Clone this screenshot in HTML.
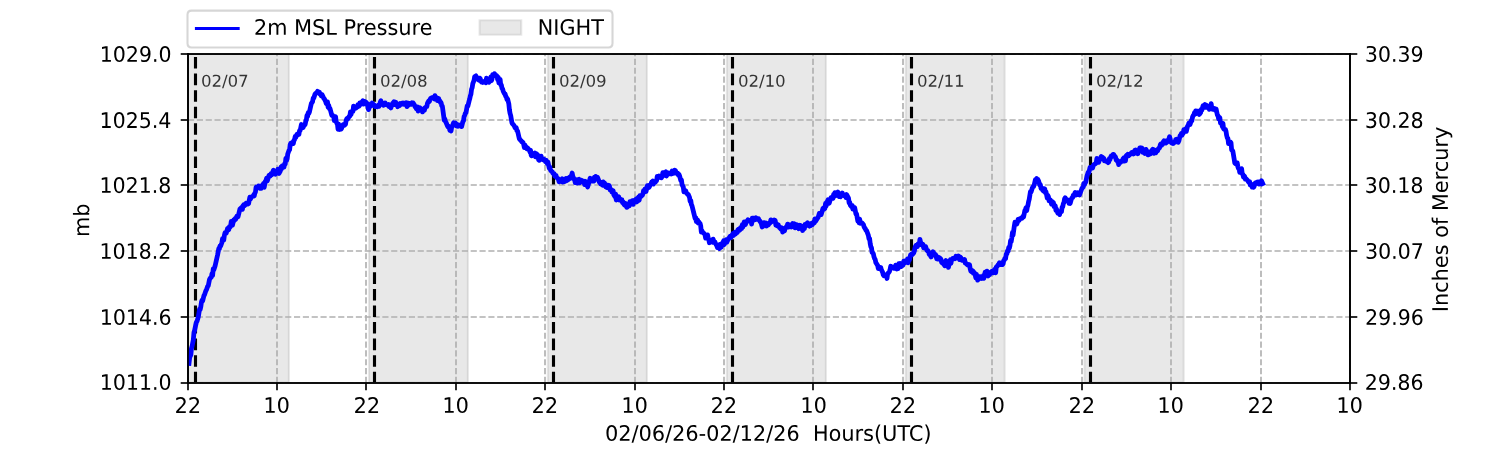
<!DOCTYPE html>
<html><head><meta charset="utf-8"><title>2m MSL Pressure</title>
<style>html,body{margin:0;padding:0;background:#fff;width:1500px;height:450px;overflow:hidden;font-family:"Liberation Sans",sans-serif}svg{display:block}</style>
</head><body>
<svg  width="1500" height="450" viewBox="0 0 720 216"  version="1.1">
<defs>
<style type="text/css">*{stroke-linejoin: round; stroke-linecap: butt}</style>
</defs>
<g id="figure_1">
<g id="patch_1">
<path d="M 0 216
L 720 216
L 720 0
L 0 0
z
" style="fill: #ffffff"/>
</g>
<g id="axes_1">
<g id="patch_2">
<path d="M 90 183.6
L 648 183.6
L 648 25.92
L 90 25.92
z
" style="fill: #ffffff"/>
</g>
<g id="patch_3">
<path d="M 72 183.6
L 138.672 183.6
L 138.672 25.92
L 72 25.92
z
" clip-path="url(#p1a22cb30ed)" style="fill: #808080; fill-opacity: 0.18; stroke: #808080; stroke-opacity: 0.18; stroke-linejoin: miter"/>
</g>
<g id="patch_4">
<path d="M 177.12 183.6
L 224.592 183.6
L 224.592 25.92
L 177.12 25.92
z
" clip-path="url(#p1a22cb30ed)" style="fill: #808080; fill-opacity: 0.18; stroke: #808080; stroke-opacity: 0.18; stroke-linejoin: miter"/>
</g>
<g id="patch_5">
<path d="M 262.944 183.6
L 310.512 183.6
L 310.512 25.92
L 262.944 25.92
z
" clip-path="url(#p1a22cb30ed)" style="fill: #808080; fill-opacity: 0.18; stroke: #808080; stroke-opacity: 0.18; stroke-linejoin: miter"/>
</g>
<g id="patch_6">
<path d="M 348.864 183.6
L 396.432 183.6
L 396.432 25.92
L 348.864 25.92
z
" clip-path="url(#p1a22cb30ed)" style="fill: #808080; fill-opacity: 0.18; stroke: #808080; stroke-opacity: 0.18; stroke-linejoin: miter"/>
</g>
<g id="patch_7">
<path d="M 434.736 183.6
L 482.256 183.6
L 482.256 25.92
L 434.736 25.92
z
" clip-path="url(#p1a22cb30ed)" style="fill: #808080; fill-opacity: 0.18; stroke: #808080; stroke-opacity: 0.18; stroke-linejoin: miter"/>
</g>
<g id="patch_8">
<path d="M 520.56 183.6
L 568.176 183.6
L 568.176 25.92
L 520.56 25.92
z
" clip-path="url(#p1a22cb30ed)" style="fill: #808080; fill-opacity: 0.18; stroke: #808080; stroke-opacity: 0.18; stroke-linejoin: miter"/>
</g>
<g id="matplotlib.axis_1">
<g id="xtick_1">
<g id="line2d_1">
<path d="M 90.2400 183.8400
L 90.2400 25.9200
" clip-path="url(#p1a22cb30ed)" style="fill: none; stroke-dasharray: 2.96,1.28; stroke-dashoffset: 0; stroke: #b0b0b0; stroke-width: 0.8"/>
</g>
<g id="line2d_2">
<defs>
<path id="mbe8e17cb12" d="M 0 0
L 0 3.5
" style="stroke: #000000; stroke-width: 0.8"/>
</defs>
<g>
<use href="#mbe8e17cb12" x="90.2400" y="183.8400" style="stroke: #000000; stroke-width: 0.8"/>
</g>
</g>
<g id="text_1">
<!-- 22 -->
<g transform="translate(83.8142 198.2068) scale(0.10000 -0.10250)">
<defs>
<path id="DejaVuSans-32" d="M 1228 531
L 3431 531
L 3431 0
L 469 0
L 469 531
Q 828 903 1448 1529
Q 2069 2156 2228 2338
Q 2531 2678 2651 2914
Q 2772 3150 2772 3378
Q 2772 3750 2511 3984
Q 2250 4219 1831 4219
Q 1534 4219 1204 4116
Q 875 4013 500 3803
L 500 4441
Q 881 4594 1212 4672
Q 1544 4750 1819 4750
Q 2544 4750 2975 4387
Q 3406 4025 3406 3419
Q 3406 3131 3298 2873
Q 3191 2616 2906 2266
Q 2828 2175 2409 1742
Q 1991 1309 1228 531
z
" transform="scale(0.015625)"/>
</defs>
<use href="#DejaVuSans-32"/>
<use href="#DejaVuSans-32" transform="translate(63.623047 0)"/>
</g>
</g>
</g>
<g id="xtick_2">
<g id="line2d_3">
<path d="M 132.9600 183.8400
L 132.9600 25.9200
" clip-path="url(#p1a22cb30ed)" style="fill: none; stroke-dasharray: 2.96,1.28; stroke-dashoffset: 0; stroke: #b0b0b0; stroke-width: 0.8"/>
</g>
<g id="line2d_4">
<g>
<use href="#mbe8e17cb12" x="132.9600" y="183.8400" style="stroke: #000000; stroke-width: 0.8"/>
</g>
</g>
<g id="text_2">
<!-- 10 -->
<g transform="translate(126.4266 198.1440) scale(0.10000 -0.10250)">
<defs>
<path id="DejaVuSans-31" d="M 794 531
L 1825 531
L 1825 4091
L 703 3866
L 703 4441
L 1819 4666
L 2450 4666
L 2450 531
L 3481 531
L 3481 0
L 794 0
L 794 531
z
" transform="scale(0.015625)"/>
<path id="DejaVuSans-30" d="M 2034 4250
Q 1547 4250 1301 3770
Q 1056 3291 1056 2328
Q 1056 1369 1301 889
Q 1547 409 2034 409
Q 2525 409 2770 889
Q 3016 1369 3016 2328
Q 3016 3291 2770 3770
Q 2525 4250 2034 4250
z
M 2034 4750
Q 2819 4750 3233 4129
Q 3647 3509 3647 2328
Q 3647 1150 3233 529
Q 2819 -91 2034 -91
Q 1250 -91 836 529
Q 422 1150 422 2328
Q 422 3509 836 4129
Q 1250 4750 2034 4750
z
" transform="scale(0.015625)"/>
</defs>
<use href="#DejaVuSans-31"/>
<use href="#DejaVuSans-30" transform="translate(63.623047 0)"/>
</g>
</g>
</g>
<g id="xtick_3">
<g id="line2d_5">
<path d="M 175.6800 183.8400
L 175.6800 25.9200
" clip-path="url(#p1a22cb30ed)" style="fill: none; stroke-dasharray: 2.96,1.28; stroke-dashoffset: 0; stroke: #b0b0b0; stroke-width: 0.8"/>
</g>
<g id="line2d_6">
<g>
<use href="#mbe8e17cb12" x="175.6800" y="183.8400" style="stroke: #000000; stroke-width: 0.8"/>
</g>
</g>
<g id="text_3">
<!-- 22 -->
<g transform="translate(169.7412 198.2072) scale(0.10000 -0.10250)">
<use href="#DejaVuSans-32"/>
<use href="#DejaVuSans-32" transform="translate(63.623047 0)"/>
</g>
</g>
</g>
<g id="xtick_4">
<g id="line2d_7">
<path d="M 218.8800 183.8400
L 218.8800 25.9200
" clip-path="url(#p1a22cb30ed)" style="fill: none; stroke-dasharray: 2.96,1.28; stroke-dashoffset: 0; stroke: #b0b0b0; stroke-width: 0.8"/>
</g>
<g id="line2d_8">
<g>
<use href="#mbe8e17cb12" x="218.8800" y="183.8400" style="stroke: #000000; stroke-width: 0.8"/>
</g>
</g>
<g id="text_4">
<!-- 10 -->
<g transform="translate(212.3473 198.1425) scale(0.10000 -0.10250)">
<use href="#DejaVuSans-31"/>
<use href="#DejaVuSans-30" transform="translate(63.623047 0)"/>
</g>
</g>
</g>
<g id="xtick_5">
<g id="line2d_9">
<path d="M 261.6000 183.8400
L 261.6000 25.9200
" clip-path="url(#p1a22cb30ed)" style="fill: none; stroke-dasharray: 2.96,1.28; stroke-dashoffset: 0; stroke: #b0b0b0; stroke-width: 0.8"/>
</g>
<g id="line2d_10">
<g>
<use href="#mbe8e17cb12" x="261.6000" y="183.8400" style="stroke: #000000; stroke-width: 0.8"/>
</g>
</g>
<g id="text_5">
<!-- 22 -->
<g transform="translate(255.1749 198.2043) scale(0.10000 -0.10250)">
<use href="#DejaVuSans-32"/>
<use href="#DejaVuSans-32" transform="translate(63.623047 0)"/>
</g>
</g>
</g>
<g id="xtick_6">
<g id="line2d_11">
<path d="M 304.8000 183.8400
L 304.8000 25.9200
" clip-path="url(#p1a22cb30ed)" style="fill: none; stroke-dasharray: 2.96,1.28; stroke-dashoffset: 0; stroke: #b0b0b0; stroke-width: 0.8"/>
</g>
<g id="line2d_12">
<g>
<use href="#mbe8e17cb12" x="304.8000" y="183.8400" style="stroke: #000000; stroke-width: 0.8"/>
</g>
</g>
<g id="text_6">
<!-- 10 -->
<g transform="translate(298.2615 198.1430) scale(0.10000 -0.10250)">
<use href="#DejaVuSans-31"/>
<use href="#DejaVuSans-30" transform="translate(63.623047 0)"/>
</g>
</g>
</g>
<g id="xtick_7">
<g id="line2d_13">
<path d="M 347.5200 183.8400
L 347.5200 25.9200
" clip-path="url(#p1a22cb30ed)" style="fill: none; stroke-dasharray: 2.96,1.28; stroke-dashoffset: 0; stroke: #b0b0b0; stroke-width: 0.8"/>
</g>
<g id="line2d_14">
<g>
<use href="#mbe8e17cb12" x="347.5200" y="183.8400" style="stroke: #000000; stroke-width: 0.8"/>
</g>
</g>
<g id="text_7">
<!-- 22 -->
<g transform="translate(341.0939 198.2066) scale(0.10000 -0.10250)">
<use href="#DejaVuSans-32"/>
<use href="#DejaVuSans-32" transform="translate(63.623047 0)"/>
</g>
</g>
</g>
<g id="xtick_8">
<g id="line2d_15">
<path d="M 390.2400 183.8400
L 390.2400 25.9200
" clip-path="url(#p1a22cb30ed)" style="fill: none; stroke-dasharray: 2.96,1.28; stroke-dashoffset: 0; stroke: #b0b0b0; stroke-width: 0.8"/>
</g>
<g id="line2d_16">
<g>
<use href="#mbe8e17cb12" x="390.2400" y="183.8400" style="stroke: #000000; stroke-width: 0.8"/>
</g>
</g>
<g id="text_8">
<!-- 10 -->
<g transform="translate(384.1835 198.1441) scale(0.10000 -0.10250)">
<use href="#DejaVuSans-31"/>
<use href="#DejaVuSans-30" transform="translate(63.623047 0)"/>
</g>
</g>
</g>
<g id="xtick_9">
<g id="line2d_17">
<path d="M 433.4400 183.8400
L 433.4400 25.9200
" clip-path="url(#p1a22cb30ed)" style="fill: none; stroke-dasharray: 2.96,1.28; stroke-dashoffset: 0; stroke: #b0b0b0; stroke-width: 0.8"/>
</g>
<g id="line2d_18">
<g>
<use href="#mbe8e17cb12" x="433.4400" y="183.8400" style="stroke: #000000; stroke-width: 0.8"/>
</g>
</g>
<g id="text_9">
<!-- 22 -->
<g transform="translate(427.0188 198.2059) scale(0.10000 -0.10250)">
<use href="#DejaVuSans-32"/>
<use href="#DejaVuSans-32" transform="translate(63.623047 0)"/>
</g>
</g>
</g>
<g id="xtick_10">
<g id="line2d_19">
<path d="M 476.1600 183.8400
L 476.1600 25.9200
" clip-path="url(#p1a22cb30ed)" style="fill: none; stroke-dasharray: 2.96,1.28; stroke-dashoffset: 0; stroke: #b0b0b0; stroke-width: 0.8"/>
</g>
<g id="line2d_20">
<g>
<use href="#mbe8e17cb12" x="476.1600" y="183.8400" style="stroke: #000000; stroke-width: 0.8"/>
</g>
</g>
<g id="text_10">
<!-- 10 -->
<g transform="translate(469.6261 198.1442) scale(0.10000 -0.10250)">
<use href="#DejaVuSans-31"/>
<use href="#DejaVuSans-30" transform="translate(63.623047 0)"/>
</g>
</g>
</g>
<g id="xtick_11">
<g id="line2d_21">
<path d="M 519.3600 183.8400
L 519.3600 25.9200
" clip-path="url(#p1a22cb30ed)" style="fill: none; stroke-dasharray: 2.96,1.28; stroke-dashoffset: 0; stroke: #b0b0b0; stroke-width: 0.8"/>
</g>
<g id="line2d_22">
<g>
<use href="#mbe8e17cb12" x="519.3600" y="183.8400" style="stroke: #000000; stroke-width: 0.8"/>
</g>
</g>
<g id="text_11">
<!-- 22 -->
<g transform="translate(512.9352 198.2071) scale(0.10000 -0.10250)">
<use href="#DejaVuSans-32"/>
<use href="#DejaVuSans-32" transform="translate(63.623047 0)"/>
</g>
</g>
</g>
<g id="xtick_12">
<g id="line2d_23">
<path d="M 562.0800 183.8400
L 562.0800 25.9200
" clip-path="url(#p1a22cb30ed)" style="fill: none; stroke-dasharray: 2.96,1.28; stroke-dashoffset: 0; stroke: #b0b0b0; stroke-width: 0.8"/>
</g>
<g id="line2d_24">
<g>
<use href="#mbe8e17cb12" x="562.0800" y="183.8400" style="stroke: #000000; stroke-width: 0.8"/>
</g>
</g>
<g id="text_12">
<!-- 10 -->
<g transform="translate(555.5475 198.1442) scale(0.10000 -0.10250)">
<use href="#DejaVuSans-31"/>
<use href="#DejaVuSans-30" transform="translate(63.623047 0)"/>
</g>
</g>
</g>
<g id="xtick_13">
<g id="line2d_25">
<path d="M 605.2800 183.8400
L 605.2800 25.9200
" clip-path="url(#p1a22cb30ed)" style="fill: none; stroke-dasharray: 2.96,1.28; stroke-dashoffset: 0; stroke: #b0b0b0; stroke-width: 0.8"/>
</g>
<g id="line2d_26">
<g>
<use href="#mbe8e17cb12" x="605.2800" y="183.8400" style="stroke: #000000; stroke-width: 0.8"/>
</g>
</g>
<g id="text_13">
<!-- 22 -->
<g transform="translate(598.8565 198.2065) scale(0.10000 -0.10250)">
<use href="#DejaVuSans-32"/>
<use href="#DejaVuSans-32" transform="translate(63.623047 0)"/>
</g>
</g>
</g>
<g id="xtick_14">
<g id="line2d_27">
<path d="M 648.0000 183.8400
L 648.0000 25.9200
" clip-path="url(#p1a22cb30ed)" style="fill: none; stroke-dasharray: 2.96,1.28; stroke-dashoffset: 0; stroke: #b0b0b0; stroke-width: 0.8"/>
</g>
<g id="line2d_28">
<g>
<use href="#mbe8e17cb12" x="648.0000" y="183.8400" style="stroke: #000000; stroke-width: 0.8"/>
</g>
</g>
<g id="text_14">
<!-- 10 -->
<g transform="translate(641.4671 198.1436) scale(0.10000 -0.10250)">
<use href="#DejaVuSans-31"/>
<use href="#DejaVuSans-30" transform="translate(63.623047 0)"/>
</g>
</g>
</g>
<g id="text_15">
<!-- 02/06/26-02/12/26  Hours(UTC) -->
<g transform="translate(290.4255 211.5886) scale(0.10000 -0.10250)">
<defs>
<path id="DejaVuSans-2f" d="M 1625 4666
L 2156 4666
L 531 -594
L 0 -594
L 1625 4666
z
" transform="scale(0.015625)"/>
<path id="DejaVuSans-36" d="M 2113 2584
Q 1688 2584 1439 2293
Q 1191 2003 1191 1497
Q 1191 994 1439 701
Q 1688 409 2113 409
Q 2538 409 2786 701
Q 3034 994 3034 1497
Q 3034 2003 2786 2293
Q 2538 2584 2113 2584
z
M 3366 4563
L 3366 3988
Q 3128 4100 2886 4159
Q 2644 4219 2406 4219
Q 1781 4219 1451 3797
Q 1122 3375 1075 2522
Q 1259 2794 1537 2939
Q 1816 3084 2150 3084
Q 2853 3084 3261 2657
Q 3669 2231 3669 1497
Q 3669 778 3244 343
Q 2819 -91 2113 -91
Q 1303 -91 875 529
Q 447 1150 447 2328
Q 447 3434 972 4092
Q 1497 4750 2381 4750
Q 2619 4750 2861 4703
Q 3103 4656 3366 4563
z
" transform="scale(0.015625)"/>
<path id="DejaVuSans-2d" d="M 313 2009
L 1997 2009
L 1997 1497
L 313 1497
L 313 2009
z
" transform="scale(0.015625)"/>
<path id="DejaVuSans-20" transform="scale(0.015625)"/>
<path id="DejaVuSans-48" d="M 628 4666
L 1259 4666
L 1259 2753
L 3553 2753
L 3553 4666
L 4184 4666
L 4184 0
L 3553 0
L 3553 2222
L 1259 2222
L 1259 0
L 628 0
L 628 4666
z
" transform="scale(0.015625)"/>
<path id="DejaVuSans-6f" d="M 1959 3097
Q 1497 3097 1228 2736
Q 959 2375 959 1747
Q 959 1119 1226 758
Q 1494 397 1959 397
Q 2419 397 2687 759
Q 2956 1122 2956 1747
Q 2956 2369 2687 2733
Q 2419 3097 1959 3097
z
M 1959 3584
Q 2709 3584 3137 3096
Q 3566 2609 3566 1747
Q 3566 888 3137 398
Q 2709 -91 1959 -91
Q 1206 -91 779 398
Q 353 888 353 1747
Q 353 2609 779 3096
Q 1206 3584 1959 3584
z
" transform="scale(0.015625)"/>
<path id="DejaVuSans-75" d="M 544 1381
L 544 3500
L 1119 3500
L 1119 1403
Q 1119 906 1312 657
Q 1506 409 1894 409
Q 2359 409 2629 706
Q 2900 1003 2900 1516
L 2900 3500
L 3475 3500
L 3475 0
L 2900 0
L 2900 538
Q 2691 219 2414 64
Q 2138 -91 1772 -91
Q 1169 -91 856 284
Q 544 659 544 1381
z
M 1991 3584
L 1991 3584
z
" transform="scale(0.015625)"/>
<path id="DejaVuSans-72" d="M 2631 2963
Q 2534 3019 2420 3045
Q 2306 3072 2169 3072
Q 1681 3072 1420 2755
Q 1159 2438 1159 1844
L 1159 0
L 581 0
L 581 3500
L 1159 3500
L 1159 2956
Q 1341 3275 1631 3429
Q 1922 3584 2338 3584
Q 2397 3584 2469 3576
Q 2541 3569 2628 3553
L 2631 2963
z
" transform="scale(0.015625)"/>
<path id="DejaVuSans-73" d="M 2834 3397
L 2834 2853
Q 2591 2978 2328 3040
Q 2066 3103 1784 3103
Q 1356 3103 1142 2972
Q 928 2841 928 2578
Q 928 2378 1081 2264
Q 1234 2150 1697 2047
L 1894 2003
Q 2506 1872 2764 1633
Q 3022 1394 3022 966
Q 3022 478 2636 193
Q 2250 -91 1575 -91
Q 1294 -91 989 -36
Q 684 19 347 128
L 347 722
Q 666 556 975 473
Q 1284 391 1588 391
Q 1994 391 2212 530
Q 2431 669 2431 922
Q 2431 1156 2273 1281
Q 2116 1406 1581 1522
L 1381 1569
Q 847 1681 609 1914
Q 372 2147 372 2553
Q 372 3047 722 3315
Q 1072 3584 1716 3584
Q 2034 3584 2315 3537
Q 2597 3491 2834 3397
z
" transform="scale(0.015625)"/>
<path id="DejaVuSans-28" d="M 1984 4856
Q 1566 4138 1362 3434
Q 1159 2731 1159 2009
Q 1159 1288 1364 580
Q 1569 -128 1984 -844
L 1484 -844
Q 1016 -109 783 600
Q 550 1309 550 2009
Q 550 2706 781 3412
Q 1013 4119 1484 4856
L 1984 4856
z
" transform="scale(0.015625)"/>
<path id="DejaVuSans-55" d="M 556 4666
L 1191 4666
L 1191 1831
Q 1191 1081 1462 751
Q 1734 422 2344 422
Q 2950 422 3222 751
Q 3494 1081 3494 1831
L 3494 4666
L 4128 4666
L 4128 1753
Q 4128 841 3676 375
Q 3225 -91 2344 -91
Q 1459 -91 1007 375
Q 556 841 556 1753
L 556 4666
z
" transform="scale(0.015625)"/>
<path id="DejaVuSans-54" d="M -19 4666
L 3928 4666
L 3928 4134
L 2272 4134
L 2272 0
L 1638 0
L 1638 4134
L -19 4134
L -19 4666
z
" transform="scale(0.015625)"/>
<path id="DejaVuSans-43" d="M 4122 4306
L 4122 3641
Q 3803 3938 3442 4084
Q 3081 4231 2675 4231
Q 1875 4231 1450 3742
Q 1025 3253 1025 2328
Q 1025 1406 1450 917
Q 1875 428 2675 428
Q 3081 428 3442 575
Q 3803 722 4122 1019
L 4122 359
Q 3791 134 3420 21
Q 3050 -91 2638 -91
Q 1578 -91 968 557
Q 359 1206 359 2328
Q 359 3453 968 4101
Q 1578 4750 2638 4750
Q 3056 4750 3426 4639
Q 3797 4528 4122 4306
z
" transform="scale(0.015625)"/>
<path id="DejaVuSans-29" d="M 513 4856
L 1013 4856
Q 1481 4119 1714 3412
Q 1947 2706 1947 2009
Q 1947 1309 1714 600
Q 1481 -109 1013 -844
L 513 -844
Q 928 -128 1133 580
Q 1338 1288 1338 2009
Q 1338 2731 1133 3434
Q 928 4138 513 4856
z
" transform="scale(0.015625)"/>
</defs>
<use href="#DejaVuSans-30"/>
<use href="#DejaVuSans-32" transform="translate(63.623047 0)"/>
<use href="#DejaVuSans-2f" transform="translate(127.246094 0)"/>
<use href="#DejaVuSans-30" transform="translate(160.9375 0)"/>
<use href="#DejaVuSans-36" transform="translate(224.560547 0)"/>
<use href="#DejaVuSans-2f" transform="translate(288.183594 0)"/>
<use href="#DejaVuSans-32" transform="translate(321.875 0)"/>
<use href="#DejaVuSans-36" transform="translate(385.498047 0)"/>
<use href="#DejaVuSans-2d" transform="translate(449.121094 0)"/>
<use href="#DejaVuSans-30" transform="translate(485.205078 0)"/>
<use href="#DejaVuSans-32" transform="translate(548.828125 0)"/>
<use href="#DejaVuSans-2f" transform="translate(612.451172 0)"/>
<use href="#DejaVuSans-31" transform="translate(646.142578 0)"/>
<use href="#DejaVuSans-32" transform="translate(709.765625 0)"/>
<use href="#DejaVuSans-2f" transform="translate(773.388672 0)"/>
<use href="#DejaVuSans-32" transform="translate(807.080078 0)"/>
<use href="#DejaVuSans-36" transform="translate(870.703125 0)"/>
<use href="#DejaVuSans-20" transform="translate(934.326172 0)"/>
<use href="#DejaVuSans-20" transform="translate(966.113281 0)"/>
<use href="#DejaVuSans-48" transform="translate(997.900391 0)"/>
<use href="#DejaVuSans-6f" transform="translate(1073.095703 0)"/>
<use href="#DejaVuSans-75" transform="translate(1134.277344 0)"/>
<use href="#DejaVuSans-72" transform="translate(1197.65625 0)"/>
<use href="#DejaVuSans-73" transform="translate(1238.769531 0)"/>
<use href="#DejaVuSans-28" transform="translate(1290.869141 0)"/>
<use href="#DejaVuSans-55" transform="translate(1329.882812 0)"/>
<use href="#DejaVuSans-54" transform="translate(1403.076172 0)"/>
<use href="#DejaVuSans-43" transform="translate(1458.285156 0)"/>
<use href="#DejaVuSans-29" transform="translate(1528.109375 0)"/>
</g>
</g>
</g>
<g id="matplotlib.axis_2">
<g id="ytick_1">
<g id="line2d_29">
<path d="M 90.2400 183.8400
L 648.0000 183.8400
" clip-path="url(#p1a22cb30ed)" style="fill: none; stroke-dasharray: 2.96,1.28; stroke-dashoffset: 0; stroke: #b0b0b0; stroke-width: 0.8"/>
</g>
<g id="line2d_30">
<defs>
<path id="m7aca13ffb6" d="M 0 0
L -3.5 0
" style="stroke: #000000; stroke-width: 0.8"/>
</defs>
<g>
<use href="#m7aca13ffb6" x="90.2400" y="183.8400" style="stroke: #000000; stroke-width: 0.8"/>
</g>
</g>
<g id="text_16">
<!-- 1011.0 -->
<g transform="translate(47.8958 187.1057) scale(0.09850 -0.10250)">
<defs>
<path id="DejaVuSans-2e" d="M 684 794
L 1344 794
L 1344 0
L 684 0
L 684 794
z
" transform="scale(0.015625)"/>
</defs>
<use href="#DejaVuSans-31"/>
<use href="#DejaVuSans-30" transform="translate(63.623047 0)"/>
<use href="#DejaVuSans-31" transform="translate(127.246094 0)"/>
<use href="#DejaVuSans-31" transform="translate(190.869141 0)"/>
<use href="#DejaVuSans-2e" transform="translate(254.492188 0)"/>
<use href="#DejaVuSans-30" transform="translate(286.279297 0)"/>
</g>
</g>
</g>
<g id="ytick_2">
<g id="line2d_31">
<path d="M 90.2400 152.1600
L 648.0000 152.1600
" clip-path="url(#p1a22cb30ed)" style="fill: none; stroke-dasharray: 2.96,1.28; stroke-dashoffset: 0; stroke: #b0b0b0; stroke-width: 0.8"/>
</g>
<g id="line2d_32">
<g>
<use href="#m7aca13ffb6" x="90.2400" y="152.1600" style="stroke: #000000; stroke-width: 0.8"/>
</g>
</g>
<g id="text_17">
<!-- 1014.6 -->
<g transform="translate(47.8954 155.9035) scale(0.09850 -0.10250)">
<defs>
<path id="DejaVuSans-34" d="M 2419 4116
L 825 1625
L 2419 1625
L 2419 4116
z
M 2253 4666
L 3047 4666
L 3047 1625
L 3713 1625
L 3713 1100
L 3047 1100
L 3047 0
L 2419 0
L 2419 1100
L 313 1100
L 313 1709
L 2253 4666
z
" transform="scale(0.015625)"/>
</defs>
<use href="#DejaVuSans-31"/>
<use href="#DejaVuSans-30" transform="translate(63.623047 0)"/>
<use href="#DejaVuSans-31" transform="translate(127.246094 0)"/>
<use href="#DejaVuSans-34" transform="translate(190.869141 0)"/>
<use href="#DejaVuSans-2e" transform="translate(254.492188 0)"/>
<use href="#DejaVuSans-36" transform="translate(286.279297 0)"/>
</g>
</g>
</g>
<g id="ytick_3">
<g id="line2d_33">
<path d="M 90.2400 120.4800
L 648.0000 120.4800
" clip-path="url(#p1a22cb30ed)" style="fill: none; stroke-dasharray: 2.96,1.28; stroke-dashoffset: 0; stroke: #b0b0b0; stroke-width: 0.8"/>
</g>
<g id="line2d_34">
<g>
<use href="#m7aca13ffb6" x="90.2400" y="120.4800" style="stroke: #000000; stroke-width: 0.8"/>
</g>
</g>
<g id="text_18">
<!-- 1018.2 -->
<g transform="translate(47.7634 124.2021) scale(0.09850 -0.10250)">
<defs>
<path id="DejaVuSans-38" d="M 2034 2216
Q 1584 2216 1326 1975
Q 1069 1734 1069 1313
Q 1069 891 1326 650
Q 1584 409 2034 409
Q 2484 409 2743 651
Q 3003 894 3003 1313
Q 3003 1734 2745 1975
Q 2488 2216 2034 2216
z
M 1403 2484
Q 997 2584 770 2862
Q 544 3141 544 3541
Q 544 4100 942 4425
Q 1341 4750 2034 4750
Q 2731 4750 3128 4425
Q 3525 4100 3525 3541
Q 3525 3141 3298 2862
Q 3072 2584 2669 2484
Q 3125 2378 3379 2068
Q 3634 1759 3634 1313
Q 3634 634 3220 271
Q 2806 -91 2034 -91
Q 1263 -91 848 271
Q 434 634 434 1313
Q 434 1759 690 2068
Q 947 2378 1403 2484
z
M 1172 3481
Q 1172 3119 1398 2916
Q 1625 2713 2034 2713
Q 2441 2713 2670 2916
Q 2900 3119 2900 3481
Q 2900 3844 2670 4047
Q 2441 4250 2034 4250
Q 1625 4250 1398 4047
Q 1172 3844 1172 3481
z
" transform="scale(0.015625)"/>
</defs>
<use href="#DejaVuSans-31"/>
<use href="#DejaVuSans-30" transform="translate(63.623047 0)"/>
<use href="#DejaVuSans-31" transform="translate(127.246094 0)"/>
<use href="#DejaVuSans-38" transform="translate(190.869141 0)"/>
<use href="#DejaVuSans-2e" transform="translate(254.492188 0)"/>
<use href="#DejaVuSans-32" transform="translate(286.279297 0)"/>
</g>
</g>
</g>
<g id="ytick_4">
<g id="line2d_35">
<path d="M 90.2400 88.8000
L 648.0000 88.8000
" clip-path="url(#p1a22cb30ed)" style="fill: none; stroke-dasharray: 2.96,1.28; stroke-dashoffset: 0; stroke: #b0b0b0; stroke-width: 0.8"/>
</g>
<g id="line2d_36">
<g>
<use href="#m7aca13ffb6" x="90.2400" y="88.8000" style="stroke: #000000; stroke-width: 0.8"/>
</g>
</g>
<g id="text_19">
<!-- 1021.8 -->
<g transform="translate(47.7624 92.5700) scale(0.09850 -0.10250)">
<use href="#DejaVuSans-31"/>
<use href="#DejaVuSans-30" transform="translate(63.623047 0)"/>
<use href="#DejaVuSans-32" transform="translate(127.246094 0)"/>
<use href="#DejaVuSans-31" transform="translate(190.869141 0)"/>
<use href="#DejaVuSans-2e" transform="translate(254.492188 0)"/>
<use href="#DejaVuSans-38" transform="translate(286.279297 0)"/>
</g>
</g>
</g>
<g id="ytick_5">
<g id="line2d_37">
<path d="M 90.2400 57.6000
L 648.0000 57.6000
" clip-path="url(#p1a22cb30ed)" style="fill: none; stroke-dasharray: 2.96,1.28; stroke-dashoffset: 0; stroke: #b0b0b0; stroke-width: 0.8"/>
</g>
<g id="line2d_38">
<g>
<use href="#m7aca13ffb6" x="90.2400" y="57.6000" style="stroke: #000000; stroke-width: 0.8"/>
</g>
</g>
<g id="text_20">
<!-- 1025.4 -->
<g transform="translate(47.8056 61.3830) scale(0.09850 -0.10250)">
<defs>
<path id="DejaVuSans-35" d="M 691 4666
L 3169 4666
L 3169 4134
L 1269 4134
L 1269 2991
Q 1406 3038 1543 3061
Q 1681 3084 1819 3084
Q 2600 3084 3056 2656
Q 3513 2228 3513 1497
Q 3513 744 3044 326
Q 2575 -91 1722 -91
Q 1428 -91 1123 -41
Q 819 9 494 109
L 494 744
Q 775 591 1075 516
Q 1375 441 1709 441
Q 2250 441 2565 725
Q 2881 1009 2881 1497
Q 2881 1984 2565 2268
Q 2250 2553 1709 2553
Q 1456 2553 1204 2497
Q 953 2441 691 2322
L 691 4666
z
" transform="scale(0.015625)"/>
</defs>
<use href="#DejaVuSans-31"/>
<use href="#DejaVuSans-30" transform="translate(63.623047 0)"/>
<use href="#DejaVuSans-32" transform="translate(127.246094 0)"/>
<use href="#DejaVuSans-35" transform="translate(190.869141 0)"/>
<use href="#DejaVuSans-2e" transform="translate(254.492188 0)"/>
<use href="#DejaVuSans-34" transform="translate(286.279297 0)"/>
</g>
</g>
</g>
<g id="ytick_6">
<g id="line2d_39">
<path d="M 90.2400 25.9200
L 648.0000 25.9200
" clip-path="url(#p1a22cb30ed)" style="fill: none; stroke-dasharray: 2.96,1.28; stroke-dashoffset: 0; stroke: #b0b0b0; stroke-width: 0.8"/>
</g>
<g id="line2d_40">
<g>
<use href="#m7aca13ffb6" x="90.2400" y="25.9200" style="stroke: #000000; stroke-width: 0.8"/>
</g>
</g>
<g id="text_21">
<!-- 1029.0 -->
<g transform="translate(47.8796 29.6699) scale(0.09850 -0.10250)">
<defs>
<path id="DejaVuSans-39" d="M 703 97
L 703 672
Q 941 559 1184 500
Q 1428 441 1663 441
Q 2288 441 2617 861
Q 2947 1281 2994 2138
Q 2813 1869 2534 1725
Q 2256 1581 1919 1581
Q 1219 1581 811 2004
Q 403 2428 403 3163
Q 403 3881 828 4315
Q 1253 4750 1959 4750
Q 2769 4750 3195 4129
Q 3622 3509 3622 2328
Q 3622 1225 3098 567
Q 2575 -91 1691 -91
Q 1453 -91 1209 -44
Q 966 3 703 97
z
M 1959 2075
Q 2384 2075 2632 2365
Q 2881 2656 2881 3163
Q 2881 3666 2632 3958
Q 2384 4250 1959 4250
Q 1534 4250 1286 3958
Q 1038 3666 1038 3163
Q 1038 2656 1286 2365
Q 1534 2075 1959 2075
z
" transform="scale(0.015625)"/>
</defs>
<use href="#DejaVuSans-31"/>
<use href="#DejaVuSans-30" transform="translate(63.623047 0)"/>
<use href="#DejaVuSans-32" transform="translate(127.246094 0)"/>
<use href="#DejaVuSans-39" transform="translate(190.869141 0)"/>
<use href="#DejaVuSans-2e" transform="translate(254.492188 0)"/>
<use href="#DejaVuSans-30" transform="translate(286.279297 0)"/>
</g>
</g>
</g>
<g id="text_22">
<!-- mb -->
<g transform="translate(42.7937 113.7645) rotate(-90) scale(0.10000 -0.10250)">
<defs>
<path id="DejaVuSans-6d" d="M 3328 2828
Q 3544 3216 3844 3400
Q 4144 3584 4550 3584
Q 5097 3584 5394 3201
Q 5691 2819 5691 2113
L 5691 0
L 5113 0
L 5113 2094
Q 5113 2597 4934 2840
Q 4756 3084 4391 3084
Q 3944 3084 3684 2787
Q 3425 2491 3425 1978
L 3425 0
L 2847 0
L 2847 2094
Q 2847 2600 2669 2842
Q 2491 3084 2119 3084
Q 1678 3084 1418 2786
Q 1159 2488 1159 1978
L 1159 0
L 581 0
L 581 3500
L 1159 3500
L 1159 2956
Q 1356 3278 1631 3431
Q 1906 3584 2284 3584
Q 2666 3584 2933 3390
Q 3200 3197 3328 2828
z
" transform="scale(0.015625)"/>
<path id="DejaVuSans-62" d="M 3116 1747
Q 3116 2381 2855 2742
Q 2594 3103 2138 3103
Q 1681 3103 1420 2742
Q 1159 2381 1159 1747
Q 1159 1113 1420 752
Q 1681 391 2138 391
Q 2594 391 2855 752
Q 3116 1113 3116 1747
z
M 1159 2969
Q 1341 3281 1617 3432
Q 1894 3584 2278 3584
Q 2916 3584 3314 3078
Q 3713 2572 3713 1747
Q 3713 922 3314 415
Q 2916 -91 2278 -91
Q 1894 -91 1617 61
Q 1341 213 1159 525
L 1159 0
L 581 0
L 581 4863
L 1159 4863
L 1159 2969
z
" transform="scale(0.015625)"/>
</defs>
<use href="#DejaVuSans-6d"/>
<use href="#DejaVuSans-62" transform="translate(97.412109 0)"/>
</g>
</g>
</g>
<g id="patch_9">
<path d="M 90.2400 183.8400
L 90.2400 25.9200
" style="fill: none; stroke: #000000; stroke-width: 0.8; stroke-linejoin: miter; stroke-linecap: square"/>
</g>
<g id="patch_10">
<path d="M 648.0000 183.8400
L 648.0000 25.9200
" style="fill: none; stroke: #000000; stroke-width: 0.8; stroke-linejoin: miter; stroke-linecap: square"/>
</g>
<g id="patch_11">
<path d="M 90.2400 183.8400
L 648.0000 183.8400
" style="fill: none; stroke: #000000; stroke-width: 0.8; stroke-linejoin: miter; stroke-linecap: square"/>
</g>
<g id="patch_12">
<path d="M 90.2400 25.9200
L 648.0000 25.9200
" style="fill: none; stroke: #000000; stroke-width: 0.8; stroke-linejoin: miter; stroke-linecap: square"/>
</g>
<g id="line2d_41">
<path d="M 93.84 183.6
L 93.84 25.92
" clip-path="url(#p1a22cb30ed)" style="fill: none; stroke-dasharray: 5.55,2.4; stroke-dashoffset: 0.384; stroke: #000000; stroke-width: 1.5"/>
</g>
<g id="line2d_42">
<path d="M 179.76 183.6
L 179.76 25.92
" clip-path="url(#p1a22cb30ed)" style="fill: none; stroke-dasharray: 5.55,2.4; stroke-dashoffset: 0.384; stroke: #000000; stroke-width: 1.5"/>
</g>
<g id="line2d_43">
<path d="M 265.68 183.6
L 265.68 25.92
" clip-path="url(#p1a22cb30ed)" style="fill: none; stroke-dasharray: 5.55,2.4; stroke-dashoffset: 0.384; stroke: #000000; stroke-width: 1.5"/>
</g>
<g id="line2d_44">
<path d="M 351.6 183.6
L 351.6 25.92
" clip-path="url(#p1a22cb30ed)" style="fill: none; stroke-dasharray: 5.55,2.4; stroke-dashoffset: 0.384; stroke: #000000; stroke-width: 1.5"/>
</g>
<g id="line2d_45">
<path d="M 437.52 183.6
L 437.52 25.92
" clip-path="url(#p1a22cb30ed)" style="fill: none; stroke-dasharray: 5.55,2.4; stroke-dashoffset: 0.384; stroke: #000000; stroke-width: 1.5"/>
</g>
<g id="line2d_46">
<path d="M 523.44 183.6
L 523.44 25.92
" clip-path="url(#p1a22cb30ed)" style="fill: none; stroke-dasharray: 5.55,2.4; stroke-dashoffset: 0.384; stroke: #000000; stroke-width: 1.5"/>
</g>
<g id="line2d_47">
<path d="M 90.72 174.453292
L 91.018077 171.833646
L 91.316154 170.845008
L 91.614231 170.350591
L 91.912308 167.1807
L 92.210385 166.133785
L 92.806538 163.062263
L 93.104615 159.551201
L 93.402692 158.604894
L 93.998846 155.798823
L 94.296923 154.561089
L 94.595 154.147882
L 95.191154 152.098759
L 95.787308 148.425989
L 96.085385 148.60335
L 96.383462 147.270513
L 96.681538 145.085525
L 96.979615 144.0663
L 97.277692 144.516432
L 97.873846 141.974589
L 98.171923 141.463197
L 98.768077 139.697762
L 99.066154 139.168187
L 99.662308 137.446589
L 99.960385 137.236546
L 100.556538 134.149264
L 100.854615 133.543452
L 101.450769 133.012151
L 101.748846 131.385791
L 102.046923 132.239025
L 102.345 129.124752
L 102.643077 129.541824
L 103.239231 127.673163
L 104.431538 122.412823
L 105.027692 119.294736
L 105.325769 119.362049
L 105.623846 118.008967
L 105.921923 118.11349
L 106.518077 116.391971
L 106.816154 114.592351
L 107.114231 115.15622
L 107.412308 115.223024
L 107.710385 112.918523
L 108.008462 111.69493
L 108.306538 111.719459
L 108.604615 111.877535
L 109.200769 109.700201
L 109.498846 109.529895
L 109.796923 110.258394
L 110.095 108.811358
L 110.393077 109.082598
L 110.691154 108.533583
L 110.989231 106.308409
L 111.287308 106.846217
L 111.585385 108.101899
L 112.181538 105.614517
L 112.479615 105.831092
L 112.777692 104.986025
L 113.075769 105.341644
L 113.373846 104.403858
L 113.671923 103.841532
L 113.97 104.163025
L 114.268077 104.034114
L 115.162308 100.313865
L 116.056538 99.524963
L 116.354615 100.489276
L 116.652692 98.734332
L 116.950769 98.346974
L 117.248846 98.8689
L 117.546923 98.552123
L 118.143077 97.507425
L 118.441154 97.636638
L 118.739231 97.909308
L 119.037308 97.985237
L 119.335385 97.700804
L 119.931538 94.62478
L 120.229615 95.487429
L 120.527692 94.812298
L 121.123846 94.30412
L 121.421923 94.206691
L 121.72 93.655275
L 122.018077 94.050334
L 122.316154 92.719346
L 122.614231 92.174772
L 122.912308 89.873303
L 123.210385 89.671388
L 123.806538 89.713573
L 124.104615 89.234497
L 124.402692 89.611974
L 124.700769 90.378192
L 125.296923 90.431225
L 125.595 89.169143
L 125.893077 89.333993
L 126.191154 89.055975
L 126.489231 88.04496
L 126.787308 89.974888
L 127.383462 87.000799
L 127.681538 86.592311
L 127.979615 85.510862
L 128.277692 86.791845
L 128.575769 86.024811
L 128.873846 84.832995
L 129.171923 84.155735
L 129.768077 84.462516
L 130.066154 83.405036
L 130.364231 83.984251
L 131.258462 81.708603
L 131.556538 82.357652
L 131.854615 83.552947
L 132.152692 83.641227
L 132.450769 83.347875
L 133.046923 82.309803
L 133.345 81.252618
L 133.941154 83.244726
L 134.537308 82.14607
L 134.835385 80.210286
L 135.133462 81.094512
L 135.431538 79.623507
L 135.729615 80.337845
L 136.027692 80.168138
L 136.325769 80.228312
L 136.623846 78.567576
L 136.921923 78.73388
L 137.22 75.98407
L 137.518077 77.076726
L 137.816154 76.234731
L 138.114231 73.929805
L 138.710385 72.216638
L 139.008462 71.840122
L 139.306538 69.287875
L 139.604615 68.77643
L 140.200769 69.04555
L 140.498846 68.273363
L 140.796923 68.89542
L 141.095 67.389285
L 141.393077 67.032121
L 141.691154 65.452218
L 141.989231 65.935737
L 142.585385 64.424483
L 142.883462 64.776749
L 143.181538 64.317301
L 143.479615 64.482453
L 143.777692 62.693656
L 144.075769 62.710375
L 144.671923 59.761282
L 144.97 60.767102
L 145.268077 61.09382
L 145.566154 61.171556
L 145.864231 60.089666
L 146.162308 60.091723
L 146.460385 59.737893
L 146.758462 58.178238
L 147.056538 57.485378
L 147.354615 55.38491
L 147.652692 55.88365
L 147.950769 54.076454
L 148.248846 54.426915
L 148.546923 53.667653
L 149.441154 49.721654
L 150.037308 48.769735
L 150.335385 47.076811
L 150.633462 47.042916
L 151.229615 45.141567
L 151.527692 44.809052
L 151.825769 44.725689
L 152.123846 44.363587
L 152.421923 43.816326
L 152.72 43.969549
L 153.018077 44.578591
L 153.316154 44.291654
L 153.614231 45.226227
L 153.912308 45.30107
L 154.210385 45.995119
L 154.508462 45.321452
L 155.104615 46.492336
L 155.402692 47.186938
L 155.700769 47.475654
L 156.296923 48.6938
L 156.595 49.780216
L 156.893077 49.867732
L 157.191154 48.822509
L 157.489231 51.497746
L 157.787308 50.51486
L 158.085385 52.116268
L 158.383462 52.052958
L 159.277692 55.353293
L 159.575769 55.264225
L 159.873846 55.729832
L 160.171923 55.814157
L 160.47 57.913337
L 160.768077 57.945057
L 161.066154 55.939613
L 161.364231 58.321771
L 161.662308 59.1641
L 161.960385 59.561821
L 162.258462 62.074762
L 162.556538 59.55777
L 162.854615 60.589947
L 163.152692 62.166578
L 163.450769 60.767358
L 163.748846 61.989631
L 164.046923 61.453077
L 164.345 60.220963
L 164.643077 59.847127
L 165.239231 60.166756
L 165.835385 59.709789
L 166.133462 57.823736
L 166.431538 56.959557
L 166.729615 57.26964
L 167.325769 56.421556
L 167.623846 55.764193
L 167.921923 55.750988
L 168.22 53.678968
L 168.518077 54.966398
L 168.816154 53.680279
L 169.114231 53.405113
L 169.412308 53.456905
L 169.710385 50.95158
L 170.008462 51.888254
L 170.306538 52.105916
L 170.604615 51.379107
L 170.902692 51.832621
L 171.200769 51.318485
L 171.498846 51.414836
L 171.796923 50.254312
L 172.095 50.375935
L 172.393077 50.950924
L 172.691154 49.447656
L 172.989231 49.51655
L 173.287308 50.118625
L 173.585385 49.082901
L 173.883462 49.073218
L 174.181538 48.301588
L 174.479615 49.965116
L 174.777692 48.743223
L 175.075769 48.696578
L 175.373846 49.038908
L 175.671923 49.078367
L 175.97 49.377655
L 176.268077 49.994531
L 176.566154 51.066965
L 176.864231 52.645892
L 177.162308 51.734402
L 177.460385 51.241613
L 177.758462 51.151133
L 178.056538 49.872068
L 178.354615 50.09864
L 178.652692 49.475935
L 178.950769 49.780915
L 179.248846 50.67469
L 179.546923 50.325954
L 179.845 50.567564
L 180.143077 51.191461
L 180.441154 50.854136
L 181.037308 51.239335
L 181.335385 51.015375
L 181.633462 50.476499
L 181.931538 51.015892
L 182.229615 50.308436
L 182.527692 49.04706
L 182.825769 48.36761
L 183.123846 49.712954
L 183.421923 49.353941
L 183.72 50.185728
L 184.018077 50.511733
L 184.614231 50.080539
L 184.912308 49.445384
L 185.508462 50.300423
L 185.806538 50.235184
L 186.104615 50.348943
L 186.402692 50.195389
L 186.700769 51.109776
L 187.296923 50.709114
L 187.595 51.836876
L 187.893077 50.867194
L 188.191154 50.319282
L 188.489231 49.506554
L 188.787308 49.532152
L 189.085385 48.793301
L 189.383462 49.092467
L 189.681538 50.227943
L 189.979615 49.099832
L 190.277692 50.291217
L 190.575769 50.004738
L 190.873846 51.22211
L 191.171923 50.395576
L 191.768077 50.688585
L 192.066154 49.653622
L 192.364231 50.160451
L 192.662308 50.024495
L 192.960385 49.554362
L 193.258462 49.880914
L 193.556538 49.459355
L 193.854615 50.062236
L 194.152692 49.653173
L 194.450769 49.455678
L 194.748846 49.961515
L 195.046923 49.329377
L 195.345 51.173151
L 195.643077 50.863749
L 195.941154 49.504713
L 196.239231 50.244605
L 196.537308 49.736625
L 196.835385 50.032751
L 197.133462 50.124516
L 197.431538 50.074763
L 197.729615 49.355275
L 198.027692 49.472631
L 198.325769 49.392035
L 198.921923 50.349439
L 199.22 51.228793
L 199.518077 51.451051
L 199.816154 52.176956
L 200.114231 51.893042
L 200.412308 51.31096
L 200.710385 53.296168
L 201.008462 51.945365
L 201.306538 52.785161
L 201.604615 51.730045
L 202.200769 52.891873
L 202.498846 52.569781
L 202.796923 53.716865
L 203.095 52.447618
L 203.393077 52.179286
L 203.691154 52.966899
L 203.989231 51.674171
L 204.287308 51.676989
L 204.585385 51.169429
L 204.883462 51.194614
L 205.181538 49.5173
L 205.777692 48.504099
L 206.075769 48.706935
L 206.671923 47.246876
L 206.97 47.274574
L 207.268077 46.898189
L 207.566154 47.084071
L 207.864231 46.895953
L 208.162308 47.085756
L 208.460385 47.496706
L 208.758462 45.876526
L 209.056538 46.972139
L 209.354615 47.516518
L 209.652692 46.886608
L 209.950769 48.290901
L 210.248846 47.20317
L 210.546923 47.286356
L 210.845 48.336153
L 211.143077 48.375101
L 211.441154 49.249601
L 211.739231 49.272854
L 212.037308 50.737025
L 212.335385 50.978114
L 213.229615 57.646716
L 213.527692 57.177986
L 213.825769 58.295821
L 214.123846 58.80267
L 214.72 60.299098
L 215.018077 60.837775
L 215.316154 60.623252
L 215.614231 61.248398
L 215.912308 62.501283
L 216.210385 62.103198
L 216.508462 62.869215
L 216.806538 61.022626
L 217.104615 60.598189
L 217.700769 58.948385
L 217.998846 60.108154
L 218.296923 59.377615
L 218.595 59.05014
L 218.893077 59.460389
L 219.191154 60.515299
L 219.489231 59.845324
L 219.787308 60.571302
L 220.085385 59.99326
L 220.383462 60.35328
L 220.681538 60.370283
L 220.979615 60.504591
L 221.277692 60.070767
L 221.575769 60.764345
L 222.171923 58.387016
L 222.47 57.975876
L 222.768077 55.909357
L 223.066154 55.298309
L 223.364231 54.359779
L 223.662308 54.097727
L 224.258462 50.874802
L 224.556538 50.992381
L 225.152692 48.515473
L 225.450769 47.48795
L 225.748846 46.040803
L 226.046923 45.1684
L 226.345 42.841316
L 226.643077 42.038178
L 226.941154 40.156558
L 227.537308 38.618903
L 227.835385 36.823742
L 228.431538 36.402951
L 228.729615 37.569071
L 229.027692 37.240369
L 229.623846 38.271172
L 229.921923 38.558458
L 230.22 37.496632
L 230.518077 37.67895
L 230.816154 38.92737
L 231.114231 39.443717
L 231.412308 39.406156
L 231.710385 39.579906
L 232.306538 39.220165
L 232.604615 39.002557
L 232.902692 39.097573
L 233.200769 39.74491
L 233.498846 37.545002
L 233.796923 37.749106
L 234.095 38.481277
L 234.393077 38.471548
L 234.691154 39.519779
L 234.989231 39.016258
L 235.287308 38.202976
L 235.585385 36.953142
L 235.883462 38.74959
L 236.181538 37.916297
L 236.479615 35.857101
L 236.777692 36.183622
L 237.075769 36.013804
L 237.373846 35.401572
L 237.671923 36.328591
L 237.97 36.373349
L 238.268077 36.218033
L 238.566154 36.518571
L 238.864231 38.224003
L 239.162308 37.113794
L 239.460385 39.823462
L 239.758462 39.729696
L 240.056538 38.098789
L 240.354615 40.768866
L 240.652692 40.784846
L 240.950769 42.337326
L 241.248846 42.654525
L 241.546923 43.771092
L 242.143077 44.993831
L 242.441154 45.114771
L 242.739231 46.197515
L 243.037308 46.539537
L 243.335385 47.694989
L 243.633462 47.498644
L 244.229615 49.80279
L 244.527692 52.685787
L 244.825769 54.405491
L 245.123846 55.369927
L 245.72 58.870728
L 246.018077 59.513158
L 246.316154 59.680116
L 246.912308 60.523907
L 247.210385 61.328805
L 247.508462 61.524832
L 247.806538 61.368016
L 248.104615 62.718936
L 248.402692 62.795659
L 249.296923 66.760951
L 249.595 66.791896
L 249.893077 67.437104
L 250.191154 67.531903
L 250.489231 68.134257
L 250.787308 68.121308
L 251.085385 68.521484
L 251.383462 69.386425
L 251.681538 70.848807
L 251.979615 69.659087
L 252.277692 70.515773
L 252.575769 70.546579
L 252.873846 71.378196
L 253.171923 70.911417
L 253.768077 71.816562
L 254.066154 71.825989
L 254.364231 72.969678
L 254.662308 72.118413
L 254.960385 74.54515
L 255.258462 74.796819
L 255.556538 73.545707
L 255.854615 74.064337
L 256.450769 74.232415
L 256.748846 73.385076
L 257.046923 75.306604
L 257.345 73.705812
L 257.643077 74.041114
L 257.941154 74.139594
L 258.239231 74.811517
L 258.537308 76.796631
L 258.835385 76.954033
L 259.133462 76.357272
L 259.431538 76.475962
L 259.729615 74.931732
L 260.027692 76.306907
L 260.325769 76.057501
L 260.623846 76.692825
L 260.921923 76.354508
L 261.518077 76.723597
L 261.816154 77.554617
L 262.114231 76.899629
L 262.710385 78.523745
L 263.008462 77.7688
L 263.604615 80.679762
L 263.902692 80.071317
L 264.200769 81.541796
L 264.796923 82.269977
L 265.095 82.464967
L 265.393077 83.124181
L 265.691154 83.321141
L 265.989231 83.319309
L 266.287308 84.543199
L 266.585385 84.63637
L 266.883462 84.243868
L 267.181538 85.277892
L 267.777692 85.579671
L 268.075769 86.173727
L 268.373846 87.303766
L 268.671923 86.945143
L 268.97 86.245316
L 269.268077 86.195078
L 269.566154 86.656467
L 269.864231 85.801656
L 270.162308 87.378066
L 270.460385 87.125494
L 270.758462 86.426504
L 271.056538 87.181092
L 271.652692 85.643806
L 271.950769 86.738276
L 272.248846 86.659039
L 272.546923 85.471771
L 272.845 86.140086
L 273.441154 85.085632
L 273.739231 85.595216
L 274.037308 84.416192
L 274.335385 84.29713
L 274.633462 83.064189
L 274.931538 84.552054
L 275.527692 85.936935
L 275.825769 86.376769
L 276.123846 87.648287
L 276.421923 87.285202
L 276.72 86.308153
L 277.018077 87.898694
L 277.614231 86.272119
L 277.912308 86.05861
L 278.210385 87.775539
L 278.508462 86.430427
L 278.806538 87.395996
L 279.104615 86.487161
L 279.402692 86.671705
L 279.700769 87.301032
L 279.998846 87.424759
L 280.296923 87.174892
L 280.595 88.597358
L 280.893077 87.010662
L 281.191154 88.458383
L 281.489231 88.100523
L 282.085385 89.734635
L 282.979615 86.614225
L 283.277692 85.567643
L 283.575769 86.238354
L 283.873846 86.471383
L 284.171923 86.899119
L 284.47 85.827855
L 284.768077 85.607551
L 285.066154 86.912291
L 285.364231 84.983848
L 285.662308 85.263292
L 285.960385 84.700205
L 286.258462 85.95123
L 286.556538 85.364395
L 286.854615 85.214553
L 287.748846 87.576584
L 288.046923 87.440418
L 288.345 88.262971
L 288.643077 88.039171
L 288.941154 88.615701
L 289.239231 88.859365
L 289.537308 87.329092
L 289.835385 87.67641
L 290.133462 87.829828
L 290.431538 88.396031
L 290.729615 89.63498
L 291.027692 88.947606
L 291.325769 90.060159
L 291.623846 88.863881
L 292.22 88.935024
L 292.518077 89.236688
L 292.816154 91.14532
L 293.114231 90.944451
L 293.412308 90.981485
L 293.710385 92.184043
L 294.008462 92.191764
L 294.306538 91.488109
L 294.604615 93.437085
L 295.200769 94.378098
L 295.498846 93.180739
L 295.796923 95.999674
L 296.095 95.141205
L 296.393077 94.656311
L 296.691154 95.227681
L 296.989231 94.470126
L 297.287308 95.978804
L 297.585385 95.4309
L 298.181538 96.19133
L 298.479615 95.842722
L 298.777692 97.179185
L 299.075769 96.860202
L 299.373846 97.834338
L 299.671923 98.348657
L 299.97 97.512822
L 300.268077 97.631651
L 300.566154 98.966755
L 300.864231 99.54161
L 301.162308 99.399281
L 301.460385 98.475158
L 301.758462 98.682122
L 302.056538 98.747155
L 302.354615 96.782754
L 302.652692 97.499056
L 303.248846 97.81019
L 303.546923 96.283328
L 303.845 98.121649
L 304.441154 96.190409
L 304.739231 96.129614
L 305.037308 96.267472
L 305.335385 95.475891
L 305.633462 96.93673
L 306.527692 94.51889
L 306.825769 96.135435
L 307.123846 93.887762
L 307.72 94.239443
L 308.316154 93.729534
L 308.614231 93.039882
L 308.912308 91.46872
L 309.210385 91.442549
L 309.508462 90.81063
L 309.806538 90.920213
L 310.104615 91.947428
L 310.700769 89.121696
L 310.998846 90.292145
L 311.296923 89.19028
L 311.595 89.885306
L 312.489231 88.167491
L 312.787308 87.336051
L 313.085385 87.713069
L 313.383462 86.900092
L 313.681538 88.377174
L 313.979615 87.316917
L 314.575769 87.433645
L 314.873846 86.769618
L 315.171923 86.746377
L 315.47 84.704742
L 315.768077 85.395458
L 316.066154 85.312016
L 316.364231 84.438115
L 316.662308 85.071204
L 316.960385 84.947715
L 317.258462 84.612123
L 317.556538 85.299781
L 317.854615 84.520633
L 318.152692 82.899269
L 318.450769 84.348584
L 318.748846 82.851505
L 319.345 82.777878
L 319.643077 82.42182
L 319.941154 84.488054
L 320.239231 83.644498
L 320.537308 83.208929
L 320.835385 83.014548
L 321.133462 83.057149
L 321.431538 83.421431
L 321.729615 82.939441
L 322.027692 82.995421
L 322.325769 83.52974
L 322.623846 82.105934
L 322.921923 82.537759
L 323.22 82.054501
L 323.518077 83.157686
L 323.816154 81.702201
L 324.114231 81.73252
L 324.710385 83.049964
L 325.008462 83.431377
L 325.306538 83.201068
L 325.604615 84.051272
L 325.902692 83.671403
L 326.200769 84.448083
L 326.796923 86.671755
L 327.095 86.432474
L 327.393077 88.640785
L 327.989231 89.82899
L 328.287308 92.141973
L 328.585385 91.28926
L 329.181538 91.583972
L 329.479615 92.605874
L 330.075769 93.241156
L 330.373846 93.362831
L 330.97 94.766559
L 331.268077 96.647355
L 331.566154 96.205541
L 331.864231 98.167712
L 332.162308 98.776226
L 333.056538 102.393909
L 333.652692 104.802627
L 333.950769 104.505399
L 334.248846 106.378844
L 334.546923 106.392549
L 334.845 105.621925
L 335.143077 107.074127
L 335.441154 106.468323
L 335.739231 107.235819
L 336.037308 107.238996
L 336.335385 108.388505
L 336.633462 111.372985
L 336.931538 110.755789
L 337.229615 111.44183
L 338.123846 112.19034
L 338.421923 112.854658
L 338.72 114.311476
L 339.018077 113.698244
L 339.316154 114.092949
L 339.614231 112.714574
L 339.912308 114.053502
L 340.210385 114.84157
L 340.508462 116.525356
L 341.104615 115.216724
L 341.402692 116.018571
L 341.700769 115.95564
L 341.998846 116.220494
L 342.296923 114.759548
L 342.595 115.812141
L 342.893077 116.44354
L 343.191154 116.158619
L 343.489231 116.942592
L 344.085385 118.042003
L 344.383462 118.844154
L 344.979615 118.790696
L 345.277692 119.255866
L 345.575769 117.265698
L 345.873846 117.228787
L 346.171923 118.751004
L 346.768077 116.820297
L 347.364231 115.606621
L 347.662308 117.411206
L 348.258462 115.549202
L 348.556538 115.117087
L 348.854615 116.253208
L 349.152692 115.549508
L 349.450769 115.132498
L 349.748846 114.354174
L 350.046923 114.373793
L 350.345 113.492377
L 350.643077 113.985427
L 350.941154 113.853219
L 351.239231 112.897578
L 351.537308 113.1997
L 351.835385 112.03184
L 352.133462 113.029357
L 352.431538 111.748888
L 352.729615 111.503567
L 353.027692 112.325869
L 353.325769 111.613564
L 353.623846 111.315381
L 353.921923 111.584384
L 354.22 110.18305
L 354.518077 110.02471
L 354.816154 110.622259
L 355.114231 110.410831
L 355.412308 109.311241
L 355.710385 109.849127
L 356.008462 109.800861
L 356.306538 107.801817
L 356.604615 108.976428
L 357.200769 106.56227
L 357.498846 106.534921
L 357.796923 107.816961
L 358.095 106.786339
L 358.393077 106.281248
L 358.691154 106.293524
L 358.989231 105.52532
L 360.181538 106.28309
L 360.479615 105.562296
L 360.777692 107.530215
L 361.075769 104.731318
L 361.373846 105.904618
L 361.671923 104.727132
L 361.97 105.619312
L 362.268077 105.26627
L 362.566154 105.367653
L 362.864231 104.503506
L 363.162308 105.01172
L 363.460385 105.245826
L 364.056538 104.94979
L 364.354615 105.655703
L 364.652692 105.96211
L 364.950769 106.630667
L 365.248846 106.610067
L 365.845 108.946345
L 366.143077 108.71747
L 366.441154 107.96251
L 366.739231 106.866119
L 367.037308 108.185675
L 367.335385 107.748194
L 367.633462 107.06115
L 367.931538 108.481243
L 368.229615 108.276331
L 368.527692 107.409583
L 368.825769 107.937744
L 369.123846 107.306259
L 369.421923 107.27325
L 369.72 106.936941
L 370.018077 105.506653
L 370.316154 106.516033
L 370.614231 106.085574
L 370.912308 105.89166
L 371.210385 105.847675
L 371.508462 105.619146
L 371.806538 106.118839
L 372.104615 105.898028
L 372.402692 108.040318
L 372.700769 107.34764
L 372.998846 108.353855
L 373.296923 107.8349
L 373.595 107.982675
L 373.893077 108.89026
L 374.191154 109.26339
L 374.489231 109.377319
L 374.787308 109.938095
L 375.085385 109.284577
L 375.383462 109.322968
L 375.681538 111.445058
L 375.979615 109.731191
L 376.277692 110.582993
L 376.575769 110.800197
L 376.873846 109.469747
L 377.171923 109.289217
L 377.47 108.77113
L 377.768077 109.054598
L 378.066154 107.546796
L 378.364231 108.978148
L 378.960385 107.880004
L 379.258462 108.910634
L 379.556538 108.744806
L 379.854615 108.902312
L 380.450769 107.314331
L 380.748846 108.80812
L 381.046923 108.550467
L 381.345 107.393914
L 381.643077 109.374253
L 381.941154 108.343888
L 382.239231 107.827115
L 382.537308 107.912809
L 382.835385 109.350526
L 383.133462 108.420329
L 383.431538 109.793322
L 383.729615 108.12903
L 384.027692 109.188398
L 384.325769 108.212536
L 384.623846 109.51583
L 384.921923 109.468794
L 385.22 110.647816
L 385.816154 109.181623
L 386.114231 109.751238
L 386.412308 107.743227
L 386.710385 108.441055
L 387.008462 108.060823
L 387.306538 107.260327
L 387.604615 106.931919
L 387.902692 107.79514
L 388.498846 108.528621
L 388.796923 107.910844
L 389.095 108.210648
L 389.393077 107.221725
L 389.691154 107.646969
L 389.989231 107.763999
L 390.585385 106.377351
L 390.883462 106.950594
L 391.181538 105.037525
L 391.479615 106.213243
L 392.373846 104.71754
L 392.671923 104.436917
L 393.268077 102.432748
L 393.864231 102.257777
L 394.162308 103.02962
L 395.056538 99.964129
L 395.354615 99.72072
L 395.652692 100.326362
L 395.950769 100.052224
L 396.248846 97.649287
L 396.546923 98.900622
L 396.845 96.959053
L 397.143077 96.779935
L 397.441154 95.908108
L 397.739231 97.302842
L 398.037308 97.510269
L 398.633462 95.499224
L 398.931538 94.817264
L 399.229615 94.617812
L 399.825769 95.171387
L 400.123846 93.339733
L 400.421923 93.465295
L 400.72 92.469398
L 401.018077 93.973302
L 401.316154 92.799217
L 401.614231 93.148817
L 401.912308 93.17495
L 402.210385 92.15998
L 402.508462 93.664001
L 402.806538 94.369836
L 403.104615 94.16629
L 403.402692 94.450929
L 403.700769 93.576764
L 403.998846 93.640035
L 404.296923 92.616409
L 404.595 93.753202
L 404.893077 93.881943
L 405.191154 93.817078
L 405.489231 93.937074
L 405.787308 94.184182
L 406.085385 94.863752
L 406.383462 93.367523
L 407.277692 95.10344
L 407.575769 97.403271
L 407.873846 97.141218
L 408.171923 98.508337
L 408.768077 99.275899
L 409.066154 98.603523
L 409.364231 100.415807
L 409.662308 100.213843
L 409.960385 100.235294
L 410.258462 99.653243
L 410.854615 102.729245
L 411.152692 102.715494
L 411.748846 106.166736
L 412.046923 105.676387
L 412.345 106.893386
L 412.643077 105.137059
L 412.941154 107.185716
L 413.239231 106.678606
L 413.537308 106.966884
L 413.835385 107.060425
L 414.431538 107.74875
L 414.729615 108.793637
L 415.027692 109.404271
L 415.325769 109.686555
L 415.623846 110.554341
L 415.921923 110.56602
L 416.816154 112.947747
L 417.114231 114.69555
L 417.412308 114.48946
L 417.710385 117.001572
L 418.008462 118.420313
L 418.306538 118.932774
L 418.604615 121.165075
L 418.902692 121.35719
L 419.200769 121.7401
L 419.498846 123.224635
L 419.796923 124.128889
L 420.095 124.503283
L 420.393077 125.964826
L 421.287308 127.447221
L 421.585385 128.947803
L 422.181538 128.929011
L 422.479615 128.919022
L 422.777692 128.422074
L 423.075769 129.511168
L 423.671923 130.733966
L 423.97 131.9495
L 424.268077 132.33131
L 424.566154 132.167297
L 424.864231 132.35591
L 425.162308 132.07511
L 425.460385 132.474292
L 425.758462 133.664498
L 426.056538 131.345669
L 426.652692 130.807765
L 426.950769 130.226193
L 427.248846 129.291216
L 427.546923 127.81536
L 427.845 128.601164
L 428.143077 128.049167
L 428.441154 128.439656
L 428.739231 128.386799
L 429.037308 128.735433
L 429.335385 128.377783
L 429.633462 128.806187
L 429.931538 127.23557
L 430.229615 127.972593
L 430.527692 129.115639
L 430.825769 128.662406
L 431.123846 128.886676
L 431.421923 126.577044
L 431.72 126.784158
L 432.018077 126.546538
L 432.316154 127.451531
L 432.614231 127.919034
L 432.912308 126.85536
L 433.210385 127.415805
L 433.508462 127.198436
L 433.806538 125.323783
L 434.104615 125.28795
L 434.402692 126.143839
L 434.700769 125.440864
L 434.998846 125.869276
L 435.296923 125.677299
L 435.595 124.289606
L 435.893077 126.172063
L 436.191154 124.631518
L 436.489231 124.858387
L 437.085385 122.301239
L 437.681538 121.828777
L 437.979615 122.089716
L 438.575769 121.402355
L 438.873846 120.559782
L 439.171923 119.048351
L 439.47 118.121337
L 439.768077 117.720841
L 440.066154 118.29639
L 440.364231 118.346887
L 440.662308 117.064086
L 441.258462 117.50261
L 441.556538 114.884179
L 441.854615 116.219295
L 442.748846 117.670465
L 443.046923 117.281954
L 443.345 118.997699
L 443.643077 118.66999
L 443.941154 119.068342
L 444.239231 118.276177
L 444.835385 119.989572
L 445.133462 120.391522
L 445.431538 120.36415
L 445.729615 120.978999
L 446.027692 122.150275
L 446.325769 122.096365
L 446.921923 123.321068
L 447.22 122.680365
L 447.816154 120.862877
L 448.114231 121.203904
L 448.412308 122.207464
L 448.710385 122.432848
L 449.008462 122.139347
L 449.306538 122.939474
L 449.604615 124.106179
L 449.902692 123.213502
L 450.200769 124.401715
L 450.498846 123.461476
L 451.393077 124.068885
L 451.691154 124.636152
L 451.989231 125.993307
L 452.287308 126.183074
L 452.585385 125.618567
L 452.883462 126.136846
L 453.181538 127.031233
L 453.479615 127.493861
L 453.777692 125.671668
L 454.075769 125.090579
L 454.373846 126.603862
L 454.671923 127.328669
L 454.97 126.842384
L 455.268077 128.358763
L 455.864231 125.261178
L 456.162308 124.689043
L 456.460385 126.397997
L 456.758462 124.75256
L 457.056538 124.583027
L 457.354615 124.024188
L 457.652692 124.096331
L 457.950769 124.042058
L 458.248846 124.215063
L 458.845 122.975594
L 459.143077 123.392008
L 459.441154 123.123493
L 459.739231 123.878786
L 460.037308 122.858023
L 460.335385 123.304431
L 460.633462 124.643502
L 460.931538 123.440365
L 461.229615 123.703681
L 461.825769 124.98042
L 462.123846 124.619505
L 462.421923 125.074814
L 462.72 125.084408
L 463.018077 124.600429
L 463.316154 126.232582
L 463.614231 126.337066
L 464.508462 127.243113
L 465.104615 126.960423
L 465.402692 127.141277
L 465.700769 129.015998
L 465.998846 130.101297
L 466.296923 130.331
L 466.595 130.244823
L 466.893077 129.922136
L 467.191154 131.119694
L 467.489231 130.705549
L 467.787308 131.07722
L 468.085385 131.849925
L 468.383462 133.30599
L 468.681538 131.650839
L 469.277692 134.477346
L 469.873846 132.776293
L 470.47 132.756115
L 471.066154 133.628626
L 471.364231 133.358172
L 471.662308 133.379779
L 471.960385 132.334404
L 472.258462 133.601079
L 472.854615 130.686732
L 473.450769 132.065757
L 473.748846 130.181604
L 474.345 132.451057
L 474.643077 131.853757
L 474.941154 131.883064
L 475.239231 131.536499
L 475.537308 130.623396
L 475.835385 131.056396
L 476.133462 130.210144
L 476.431538 130.441132
L 476.729615 130.886635
L 477.325769 129.360477
L 477.623846 129.974686
L 477.921923 130.930725
L 478.22 128.197975
L 478.518077 127.869493
L 478.816154 127.706881
L 479.114231 127.079694
L 479.412308 126.807381
L 479.710385 126.150331
L 480.008462 127.034884
L 480.306538 126.747225
L 480.604615 126.936988
L 480.902692 126.099779
L 481.200769 127.011933
L 481.498846 126.621693
L 481.796923 125.077086
L 482.095 124.738215
L 482.393077 123.931795
L 482.691154 124.091992
L 482.989231 122.005669
L 483.287308 121.971498
L 483.585385 120.394245
L 483.883462 120.595941
L 484.181538 118.805189
L 484.479615 119.096912
L 484.777692 117.884687
L 485.075769 115.470898
L 485.373846 115.947151
L 485.671923 114.177987
L 485.97 111.568791
L 486.268077 112.841273
L 486.864231 108.543743
L 487.162308 106.696901
L 487.460385 107.469662
L 487.758462 107.289922
L 488.056538 107.516078
L 488.354615 106.771706
L 488.652692 105.350263
L 488.950769 105.638105
L 489.248846 105.718743
L 489.546923 104.916031
L 489.845 104.878534
L 490.143077 104.624584
L 490.441154 104.802219
L 490.739231 104.65219
L 491.037308 103.758048
L 491.335385 104.10004
L 491.931538 101.008442
L 492.229615 100.517417
L 492.527692 99.681308
L 492.825769 101.078214
L 493.123846 99.338836
L 493.421923 98.458528
L 493.72 96.746817
L 494.018077 95.733065
L 494.614231 92.036029
L 494.912308 92.117364
L 495.508462 90.279556
L 495.806538 89.65042
L 496.104615 89.578627
L 496.402692 88.769903
L 496.998846 86.243558
L 497.296923 86.526742
L 497.595 85.680774
L 497.893077 86.254989
L 498.191154 86.143066
L 498.489231 86.747012
L 499.085385 88.860656
L 499.383462 88.717445
L 499.681538 90.460187
L 499.979615 90.114086
L 500.575769 91.398476
L 501.171923 91.937016
L 501.47 90.604637
L 501.768077 92.423376
L 502.066154 92.067247
L 502.662308 95.01556
L 502.960385 93.798524
L 503.258462 94.450801
L 503.556538 96.416544
L 503.854615 95.818916
L 504.152692 95.895669
L 504.450769 96.687124
L 504.748846 97.963881
L 505.046923 96.72254
L 505.345 97.554909
L 505.643077 97.215441
L 505.941154 99.162652
L 506.239231 98.607904
L 506.537308 98.851611
L 506.835385 100.996226
L 507.133462 100.300472
L 507.431538 101.526924
L 507.729615 102.197826
L 508.027692 102.005479
L 508.623846 103.011473
L 508.921923 101.519102
L 509.22 101.821407
L 509.518077 101.603593
L 509.816154 99.42616
L 510.114231 99.251288
L 510.412308 97.711784
L 510.710385 97.171543
L 511.008462 95.389531
L 511.306538 94.891867
L 511.604615 95.7677
L 511.902692 95.697485
L 512.200769 96.12917
L 512.498846 96.240928
L 512.796923 96.137485
L 513.095 97.568358
L 513.393077 96.722219
L 513.691154 97.658035
L 514.287308 95.467508
L 514.585385 94.937958
L 514.883462 94.854302
L 515.181538 93.667934
L 515.479615 93.915367
L 516.075769 92.382312
L 516.671923 93.573159
L 516.97 92.892296
L 517.268077 92.50136
L 517.566154 93.100432
L 518.162308 93.61874
L 519.354615 90.380142
L 519.950769 89.795468
L 520.248846 88.066002
L 520.546923 88.697294
L 520.845 87.720618
L 521.143077 87.507761
L 521.739231 84.577385
L 522.335385 82.687078
L 522.633462 82.973246
L 523.229615 80.346751
L 523.527692 80.838738
L 524.123846 80.72056
L 524.421923 80.735661
L 524.72 79.591007
L 525.018077 78.981644
L 525.912308 78.534074
L 526.210385 77.940865
L 526.508462 75.999633
L 526.806538 77.75786
L 527.104615 77.63909
L 527.402692 77.835415
L 527.700769 76.712044
L 527.998846 76.502503
L 528.595 75.062688
L 528.893077 76.192182
L 529.191154 75.455011
L 529.489231 76.036064
L 529.787308 75.903199
L 530.085385 77.155246
L 530.383462 77.045482
L 530.681538 77.154668
L 531.277692 77.653612
L 531.575769 77.652859
L 531.873846 78.060479
L 532.171923 77.752075
L 532.47 76.119515
L 532.768077 76.674299
L 533.066154 75.463142
L 533.364231 74.836117
L 533.662308 75.201314
L 533.960385 74.900204
L 534.258462 74.143189
L 534.556538 74.11809
L 534.854615 74.964483
L 535.152692 74.974602
L 535.450769 75.438448
L 535.748846 76.766017
L 536.046923 76.6605
L 536.345 77.534298
L 536.643077 77.224031
L 536.941154 79.014769
L 537.537308 77.589699
L 537.835385 77.939647
L 538.133462 77.363604
L 538.729615 77.180024
L 539.027692 76.283965
L 539.325769 75.884606
L 539.623846 77.358853
L 539.921923 75.891722
L 540.22 77.242028
L 540.518077 74.898821
L 540.816154 74.517644
L 541.114231 74.671425
L 541.412308 74.071527
L 541.710385 74.815997
L 542.008462 74.18948
L 542.306538 74.277907
L 543.200769 73.194976
L 543.498846 73.105922
L 544.095 73.916546
L 544.393077 73.758272
L 544.691154 72.155058
L 544.989231 71.970422
L 545.287308 73.027958
L 545.585385 72.447019
L 545.883462 72.448312
L 546.181538 73.803094
L 547.075769 70.98022
L 547.373846 71.060667
L 547.671923 71.003484
L 547.97 71.480893
L 548.268077 71.203686
L 548.566154 73.092434
L 548.864231 72.733681
L 549.162308 72.567134
L 549.460385 73.658297
L 550.056538 71.680774
L 550.354615 72.282632
L 550.950769 74.252335
L 551.248846 74.36016
L 551.546923 74.051571
L 551.845 72.898207
L 552.143077 73.950615
L 552.441154 73.1156
L 552.739231 73.114694
L 553.037308 72.002402
L 553.335385 71.625804
L 553.633462 72.898667
L 553.931538 73.580674
L 554.229615 73.064595
L 554.527692 72.126644
L 554.825769 73.376089
L 555.123846 72.347116
L 555.421923 72.029167
L 555.72 72.286791
L 556.018077 71.357974
L 556.316154 70.983549
L 556.614231 70.97811
L 556.912308 69.541461
L 557.210385 69.109306
L 557.508462 69.79454
L 557.806538 69.12749
L 558.104615 69.264837
L 558.402692 68.02304
L 558.700769 67.619402
L 558.998846 67.902417
L 559.296923 67.645985
L 559.595 68.685704
L 560.191154 68.226162
L 560.489231 67.367251
L 560.787308 67.125397
L 561.085385 66.680634
L 561.383462 65.635983
L 561.681538 66.630695
L 561.979615 68.140285
L 562.277692 68.56355
L 562.575769 68.751992
L 562.873846 68.39428
L 563.171923 68.866668
L 564.066154 67.98002
L 564.364231 66.970919
L 564.662308 66.877243
L 564.960385 68.117618
L 565.258462 67.88331
L 565.556538 68.273518
L 565.854615 67.693644
L 566.450769 65.021792
L 566.748846 64.920924
L 567.046923 64.101023
L 567.345 64.945639
L 567.643077 64.005273
L 567.941154 64.051504
L 568.239231 62.253767
L 568.537308 62.526207
L 569.133462 61.810485
L 569.431538 63.078705
L 570.027692 60.533285
L 570.325769 60.206045
L 570.623846 59.178981
L 570.921923 59.726806
L 571.22 59.784521
L 571.816154 57.827203
L 572.114231 57.93063
L 572.412308 56.187288
L 572.710385 55.539826
L 573.008462 55.225509
L 573.306538 54.136903
L 573.604615 54.641288
L 573.902692 53.261474
L 574.200769 54.598033
L 574.498846 53.748983
L 574.796923 53.299688
L 575.095 53.341566
L 575.393077 53.749184
L 575.691154 54.931633
L 576.287308 54.096309
L 576.585385 52.549058
L 576.883462 52.908679
L 577.479615 50.692419
L 577.777692 50.958135
L 578.373846 50.195812
L 578.671923 51.531547
L 578.97 50.426849
L 579.268077 50.661042
L 579.566154 51.559486
L 579.864231 51.377539
L 580.162308 51.708904
L 580.460385 52.419986
L 580.758462 51.114366
L 581.056538 51.501126
L 581.354615 49.708864
L 581.652692 51.798942
L 581.950769 52.440901
L 582.248846 52.490607
L 582.546923 52.341639
L 582.845 52.023886
L 583.143077 52.164739
L 583.441154 52.994258
L 583.739231 52.293584
L 584.335385 55.205642
L 584.633462 55.500698
L 584.931538 56.99135
L 585.229615 56.25055
L 585.527692 56.58198
L 585.825769 59.020813
L 586.123846 59.237267
L 586.421923 59.121254
L 586.72 60.724584
L 587.018077 59.192096
L 587.316154 61.772003
L 587.614231 62.102434
L 587.912308 62.048029
L 588.210385 62.148958
L 588.508462 63.14675
L 588.806538 65.05842
L 589.104615 66.241116
L 589.402692 66.46837
L 589.700769 68.97409
L 589.998846 68.164349
L 590.296923 68.559687
L 590.595 68.141871
L 590.893077 68.585715
L 591.191154 71.938003
L 591.489231 72.198167
L 591.787308 72.660655
L 592.383462 76.233102
L 592.681538 78.16653
L 592.979615 78.618095
L 593.277692 78.557765
L 593.575769 78.07428
L 593.873846 78.181272
L 594.171923 80.019085
L 594.47 80.924189
L 594.768077 80.958661
L 595.066154 82.748162
L 595.662308 81.132528
L 595.960385 80.959608
L 596.258462 83.355962
L 596.556538 83.635608
L 596.854615 84.937916
L 597.152692 84.400253
L 597.450769 84.774771
L 597.748846 85.986914
L 598.046923 85.730295
L 598.941154 86.693636
L 599.239231 87.292166
L 599.537308 87.589994
L 599.835385 87.213478
L 600.133462 88.77097
L 600.431538 88.256552
L 601.027692 89.812695
L 601.325769 89.513828
L 601.623846 89.892824
L 601.921923 89.671287
L 602.518077 87.842989
L 602.816154 88.190052
L 603.114231 87.918261
L 603.412308 87.42468
L 604.008462 87.327141
L 604.306538 88.393192
L 604.604615 87.969992
L 604.902692 88.202845
L 605.200769 87.638564
L 605.498846 86.752781
L 606.095 88.135877
L 606.095 88.135877
" clip-path="url(#p1a22cb30ed)" style="fill: none; stroke: #0000ff; stroke-width: 2.3; stroke-linecap: square"/>
</g>
<g id="text_23">
<!-- 02/07 -->
<g style="fill: #333333" transform="translate(96.5123 41.5880) scale(0.07920 -0.07760)">
<defs>
<path id="DejaVuSans-37" d="M 525 4666
L 3525 4666
L 3525 4397
L 1831 0
L 1172 0
L 2766 4134
L 525 4134
L 525 4666
z
" transform="scale(0.015625)"/>
</defs>
<use href="#DejaVuSans-30"/>
<use href="#DejaVuSans-32" transform="translate(63.623047 0)"/>
<use href="#DejaVuSans-2f" transform="translate(127.246094 0)"/>
<use href="#DejaVuSans-30" transform="translate(160.9375 0)"/>
<use href="#DejaVuSans-37" transform="translate(224.560547 0)"/>
</g>
</g>
<g id="text_24">
<!-- 02/08 -->
<g style="fill: #333333" transform="translate(182.4323 41.5880) scale(0.07920 -0.07760)">
<use href="#DejaVuSans-30"/>
<use href="#DejaVuSans-32" transform="translate(63.623047 0)"/>
<use href="#DejaVuSans-2f" transform="translate(127.246094 0)"/>
<use href="#DejaVuSans-30" transform="translate(160.9375 0)"/>
<use href="#DejaVuSans-38" transform="translate(224.560547 0)"/>
</g>
</g>
<g id="text_25">
<!-- 02/09 -->
<g style="fill: #333333" transform="translate(268.3523 41.5880) scale(0.07920 -0.07760)">
<use href="#DejaVuSans-30"/>
<use href="#DejaVuSans-32" transform="translate(63.623047 0)"/>
<use href="#DejaVuSans-2f" transform="translate(127.246094 0)"/>
<use href="#DejaVuSans-30" transform="translate(160.9375 0)"/>
<use href="#DejaVuSans-39" transform="translate(224.560547 0)"/>
</g>
</g>
<g id="text_26">
<!-- 02/10 -->
<g style="fill: #333333" transform="translate(354.2723 41.5880) scale(0.07920 -0.07760)">
<use href="#DejaVuSans-30"/>
<use href="#DejaVuSans-32" transform="translate(63.623047 0)"/>
<use href="#DejaVuSans-2f" transform="translate(127.246094 0)"/>
<use href="#DejaVuSans-31" transform="translate(160.9375 0)"/>
<use href="#DejaVuSans-30" transform="translate(224.560547 0)"/>
</g>
</g>
<g id="text_27">
<!-- 02/11 -->
<g style="fill: #333333" transform="translate(440.1923 41.5880) scale(0.07920 -0.07760)">
<use href="#DejaVuSans-30"/>
<use href="#DejaVuSans-32" transform="translate(63.623047 0)"/>
<use href="#DejaVuSans-2f" transform="translate(127.246094 0)"/>
<use href="#DejaVuSans-31" transform="translate(160.9375 0)"/>
<use href="#DejaVuSans-31" transform="translate(224.560547 0)"/>
</g>
</g>
<g id="text_28">
<!-- 02/12 -->
<g style="fill: #333333" transform="translate(526.1123 41.5880) scale(0.07920 -0.07760)">
<use href="#DejaVuSans-30"/>
<use href="#DejaVuSans-32" transform="translate(63.623047 0)"/>
<use href="#DejaVuSans-2f" transform="translate(127.246094 0)"/>
<use href="#DejaVuSans-31" transform="translate(160.9375 0)"/>
<use href="#DejaVuSans-32" transform="translate(224.560547 0)"/>
</g>
</g>
<g id="legend_1">
<g id="patch_13">
<path d="M 92 22.7664
L 292.004687 22.7664
Q 294.004687 22.7664 294.004687 20.7664
L 294.004687 7.088275
Q 294.004687 5.088275 292.004687 5.088275
L 92 5.088275
Q 90 5.088275 90 7.088275
L 90 20.7664
Q 90 22.7664 92 22.7664
z
" style="fill: #ffffff; fill-opacity: 0.8; stroke: #cccccc; stroke-opacity: 0.8; stroke-linejoin: miter"/>
</g>
<g id="line2d_48">
<path d="M 94.3 13.656
L 114.3 13.656
" style="fill: none; stroke: #0000ff; stroke-width: 1.5; stroke-linecap: square"/>
</g>
<g id="text_29">
<!-- 2m MSL Pressure -->
<g transform="translate(121.8877 16.7155) scale(0.10000 -0.10250)">
<defs>
<path id="DejaVuSans-4d" d="M 628 4666
L 1569 4666
L 2759 1491
L 3956 4666
L 4897 4666
L 4897 0
L 4281 0
L 4281 4097
L 3078 897
L 2444 897
L 1241 4097
L 1241 0
L 628 0
L 628 4666
z
" transform="scale(0.015625)"/>
<path id="DejaVuSans-53" d="M 3425 4513
L 3425 3897
Q 3066 4069 2747 4153
Q 2428 4238 2131 4238
Q 1616 4238 1336 4038
Q 1056 3838 1056 3469
Q 1056 3159 1242 3001
Q 1428 2844 1947 2747
L 2328 2669
Q 3034 2534 3370 2195
Q 3706 1856 3706 1288
Q 3706 609 3251 259
Q 2797 -91 1919 -91
Q 1588 -91 1214 -16
Q 841 59 441 206
L 441 856
Q 825 641 1194 531
Q 1563 422 1919 422
Q 2459 422 2753 634
Q 3047 847 3047 1241
Q 3047 1584 2836 1778
Q 2625 1972 2144 2069
L 1759 2144
Q 1053 2284 737 2584
Q 422 2884 422 3419
Q 422 4038 858 4394
Q 1294 4750 2059 4750
Q 2388 4750 2728 4690
Q 3069 4631 3425 4513
z
" transform="scale(0.015625)"/>
<path id="DejaVuSans-4c" d="M 628 4666
L 1259 4666
L 1259 531
L 3531 531
L 3531 0
L 628 0
L 628 4666
z
" transform="scale(0.015625)"/>
<path id="DejaVuSans-50" d="M 1259 4147
L 1259 2394
L 2053 2394
Q 2494 2394 2734 2622
Q 2975 2850 2975 3272
Q 2975 3691 2734 3919
Q 2494 4147 2053 4147
L 1259 4147
z
M 628 4666
L 2053 4666
Q 2838 4666 3239 4311
Q 3641 3956 3641 3272
Q 3641 2581 3239 2228
Q 2838 1875 2053 1875
L 1259 1875
L 1259 0
L 628 0
L 628 4666
z
" transform="scale(0.015625)"/>
<path id="DejaVuSans-65" d="M 3597 1894
L 3597 1613
L 953 1613
Q 991 1019 1311 708
Q 1631 397 2203 397
Q 2534 397 2845 478
Q 3156 559 3463 722
L 3463 178
Q 3153 47 2828 -22
Q 2503 -91 2169 -91
Q 1331 -91 842 396
Q 353 884 353 1716
Q 353 2575 817 3079
Q 1281 3584 2069 3584
Q 2775 3584 3186 3129
Q 3597 2675 3597 1894
z
M 3022 2063
Q 3016 2534 2758 2815
Q 2500 3097 2075 3097
Q 1594 3097 1305 2825
Q 1016 2553 972 2059
L 3022 2063
z
" transform="scale(0.015625)"/>
</defs>
<use href="#DejaVuSans-32"/>
<use href="#DejaVuSans-6d" transform="translate(63.623047 0)"/>
<use href="#DejaVuSans-20" transform="translate(161.035156 0)"/>
<use href="#DejaVuSans-4d" transform="translate(192.822266 0)"/>
<use href="#DejaVuSans-53" transform="translate(279.101562 0)"/>
<use href="#DejaVuSans-4c" transform="translate(342.578125 0)"/>
<use href="#DejaVuSans-20" transform="translate(398.291016 0)"/>
<use href="#DejaVuSans-50" transform="translate(430.078125 0)"/>
<use href="#DejaVuSans-72" transform="translate(488.630859 0)"/>
<use href="#DejaVuSans-65" transform="translate(527.494141 0)"/>
<use href="#DejaVuSans-73" transform="translate(589.017578 0)"/>
<use href="#DejaVuSans-73" transform="translate(641.117188 0)"/>
<use href="#DejaVuSans-75" transform="translate(693.216797 0)"/>
<use href="#DejaVuSans-72" transform="translate(756.595703 0)"/>
<use href="#DejaVuSans-65" transform="translate(795.458984 0)"/>
</g>
</g>
<g id="patch_14">
<path d="M 230.196875 16.686712
L 250.196875 16.686712
L 250.196875 9.686712
L 230.196875 9.686712
z
" style="fill: #808080; fill-opacity: 0.18; stroke: #808080; stroke-opacity: 0.18; stroke-linejoin: miter"/>
</g>
<g id="text_30">
<!-- NIGHT -->
<g transform="translate(258.0824 16.7241) scale(0.10000 -0.10250)">
<defs>
<path id="DejaVuSans-4e" d="M 628 4666
L 1478 4666
L 3547 763
L 3547 4666
L 4159 4666
L 4159 0
L 3309 0
L 1241 3903
L 1241 0
L 628 0
L 628 4666
z
" transform="scale(0.015625)"/>
<path id="DejaVuSans-49" d="M 628 4666
L 1259 4666
L 1259 0
L 628 0
L 628 4666
z
" transform="scale(0.015625)"/>
<path id="DejaVuSans-47" d="M 3809 666
L 3809 1919
L 2778 1919
L 2778 2438
L 4434 2438
L 4434 434
Q 4069 175 3628 42
Q 3188 -91 2688 -91
Q 1594 -91 976 548
Q 359 1188 359 2328
Q 359 3472 976 4111
Q 1594 4750 2688 4750
Q 3144 4750 3555 4637
Q 3966 4525 4313 4306
L 4313 3634
Q 3963 3931 3569 4081
Q 3175 4231 2741 4231
Q 1884 4231 1454 3753
Q 1025 3275 1025 2328
Q 1025 1384 1454 906
Q 1884 428 2741 428
Q 3075 428 3337 486
Q 3600 544 3809 666
z
" transform="scale(0.015625)"/>
</defs>
<use href="#DejaVuSans-4e"/>
<use href="#DejaVuSans-49" transform="translate(74.804688 0)"/>
<use href="#DejaVuSans-47" transform="translate(104.296875 0)"/>
<use href="#DejaVuSans-48" transform="translate(181.787109 0)"/>
<use href="#DejaVuSans-54" transform="translate(256.982422 0)"/>
</g>
</g>
</g>
</g>
<g id="axes_2">
<g id="matplotlib.axis_3">
<g id="ytick_7">
<g id="line2d_49">
<defs>
<path id="m706f0f5cb0" d="M 0 0
L 3.5 0
" style="stroke: #000000; stroke-width: 0.8"/>
</defs>
<g>
<use href="#m706f0f5cb0" x="648.0000" y="183.8400" style="stroke: #000000; stroke-width: 0.8"/>
</g>
</g>
<g id="text_31">
<!-- 29.86 -->
<g transform="translate(655.0919 187.1081) scale(0.09850 -0.10250)">
<use href="#DejaVuSans-32"/>
<use href="#DejaVuSans-39" transform="translate(63.623047 0)"/>
<use href="#DejaVuSans-2e" transform="translate(127.246094 0)"/>
<use href="#DejaVuSans-38" transform="translate(159.033203 0)"/>
<use href="#DejaVuSans-36" transform="translate(222.65625 0)"/>
</g>
</g>
</g>
<g id="ytick_8">
<g id="line2d_50">
<g>
<use href="#m706f0f5cb0" x="648.0000" y="152.1600" style="stroke: #000000; stroke-width: 0.8"/>
</g>
</g>
<g id="text_32">
<!-- 29.96 -->
<g transform="translate(655.2339 155.9363) scale(0.09850 -0.10250)">
<use href="#DejaVuSans-32"/>
<use href="#DejaVuSans-39" transform="translate(63.623047 0)"/>
<use href="#DejaVuSans-2e" transform="translate(127.246094 0)"/>
<use href="#DejaVuSans-39" transform="translate(159.033203 0)"/>
<use href="#DejaVuSans-36" transform="translate(222.65625 0)"/>
</g>
</g>
</g>
<g id="ytick_9">
<g id="line2d_51">
<g>
<use href="#m706f0f5cb0" x="648.0000" y="120.4800" style="stroke: #000000; stroke-width: 0.8"/>
</g>
</g>
<g id="text_33">
<!-- 30.07 -->
<g transform="translate(655.2241 124.2222) scale(0.09850 -0.10250)">
<defs>
<path id="DejaVuSans-33" d="M 2597 2516
Q 3050 2419 3304 2112
Q 3559 1806 3559 1356
Q 3559 666 3084 287
Q 2609 -91 1734 -91
Q 1441 -91 1130 -33
Q 819 25 488 141
L 488 750
Q 750 597 1062 519
Q 1375 441 1716 441
Q 2309 441 2620 675
Q 2931 909 2931 1356
Q 2931 1769 2642 2001
Q 2353 2234 1838 2234
L 1294 2234
L 1294 2753
L 1863 2753
Q 2328 2753 2575 2939
Q 2822 3125 2822 3475
Q 2822 3834 2567 4026
Q 2313 4219 1838 4219
Q 1578 4219 1281 4162
Q 984 4106 628 3988
L 628 4550
Q 988 4650 1302 4700
Q 1616 4750 1894 4750
Q 2613 4750 3031 4423
Q 3450 4097 3450 3541
Q 3450 3153 3228 2886
Q 3006 2619 2597 2516
z
" transform="scale(0.015625)"/>
</defs>
<use href="#DejaVuSans-33"/>
<use href="#DejaVuSans-30" transform="translate(63.623047 0)"/>
<use href="#DejaVuSans-2e" transform="translate(127.246094 0)"/>
<use href="#DejaVuSans-30" transform="translate(159.033203 0)"/>
<use href="#DejaVuSans-37" transform="translate(222.65625 0)"/>
</g>
</g>
</g>
<g id="ytick_10">
<g id="line2d_52">
<g>
<use href="#m706f0f5cb0" x="648.0000" y="88.8000" style="stroke: #000000; stroke-width: 0.8"/>
</g>
</g>
<g id="text_34">
<!-- 30.18 -->
<g transform="translate(655.0670 92.5566) scale(0.09850 -0.10250)">
<use href="#DejaVuSans-33"/>
<use href="#DejaVuSans-30" transform="translate(63.623047 0)"/>
<use href="#DejaVuSans-2e" transform="translate(127.246094 0)"/>
<use href="#DejaVuSans-31" transform="translate(159.033203 0)"/>
<use href="#DejaVuSans-38" transform="translate(222.65625 0)"/>
</g>
</g>
</g>
<g id="ytick_11">
<g id="line2d_53">
<g>
<use href="#m706f0f5cb0" x="648.0000" y="57.6000" style="stroke: #000000; stroke-width: 0.8"/>
</g>
</g>
<g id="text_35">
<!-- 30.28 -->
<g transform="translate(655.1438 61.3700) scale(0.09850 -0.10250)">
<use href="#DejaVuSans-33"/>
<use href="#DejaVuSans-30" transform="translate(63.623047 0)"/>
<use href="#DejaVuSans-2e" transform="translate(127.246094 0)"/>
<use href="#DejaVuSans-32" transform="translate(159.033203 0)"/>
<use href="#DejaVuSans-38" transform="translate(222.65625 0)"/>
</g>
</g>
</g>
<g id="ytick_12">
<g id="line2d_54">
<g>
<use href="#m706f0f5cb0" x="648.0000" y="25.9200" style="stroke: #000000; stroke-width: 0.8"/>
</g>
</g>
<g id="text_36">
<!-- 30.39 -->
<g transform="translate(655.1301 29.6377) scale(0.09850 -0.10250)">
<use href="#DejaVuSans-33"/>
<use href="#DejaVuSans-30" transform="translate(63.623047 0)"/>
<use href="#DejaVuSans-2e" transform="translate(127.246094 0)"/>
<use href="#DejaVuSans-33" transform="translate(159.033203 0)"/>
<use href="#DejaVuSans-39" transform="translate(222.65625 0)"/>
</g>
</g>
</g>
<g id="text_37">
<!-- Inches of Mercury -->
<g transform="translate(694.9654 149.8336) rotate(-90) scale(0.10000 -0.10250)">
<defs>
<path id="DejaVuSans-6e" d="M 3513 2113
L 3513 0
L 2938 0
L 2938 2094
Q 2938 2591 2744 2837
Q 2550 3084 2163 3084
Q 1697 3084 1428 2787
Q 1159 2491 1159 1978
L 1159 0
L 581 0
L 581 3500
L 1159 3500
L 1159 2956
Q 1366 3272 1645 3428
Q 1925 3584 2291 3584
Q 2894 3584 3203 3211
Q 3513 2838 3513 2113
z
" transform="scale(0.015625)"/>
<path id="DejaVuSans-63" d="M 3122 3366
L 3122 2828
Q 2878 2963 2633 3030
Q 2388 3097 2138 3097
Q 1578 3097 1268 2742
Q 959 2388 959 1747
Q 959 1106 1268 751
Q 1578 397 2138 397
Q 2388 397 2633 464
Q 2878 531 3122 666
L 3122 134
Q 2881 22 2623 -34
Q 2366 -91 2075 -91
Q 1284 -91 818 406
Q 353 903 353 1747
Q 353 2603 823 3093
Q 1294 3584 2113 3584
Q 2378 3584 2631 3529
Q 2884 3475 3122 3366
z
" transform="scale(0.015625)"/>
<path id="DejaVuSans-68" d="M 3513 2113
L 3513 0
L 2938 0
L 2938 2094
Q 2938 2591 2744 2837
Q 2550 3084 2163 3084
Q 1697 3084 1428 2787
Q 1159 2491 1159 1978
L 1159 0
L 581 0
L 581 4863
L 1159 4863
L 1159 2956
Q 1366 3272 1645 3428
Q 1925 3584 2291 3584
Q 2894 3584 3203 3211
Q 3513 2838 3513 2113
z
" transform="scale(0.015625)"/>
<path id="DejaVuSans-66" d="M 2375 4863
L 2375 4384
L 1825 4384
Q 1516 4384 1395 4259
Q 1275 4134 1275 3809
L 1275 3500
L 2222 3500
L 2222 3053
L 1275 3053
L 1275 0
L 697 0
L 697 3053
L 147 3053
L 147 3500
L 697 3500
L 697 3744
Q 697 4328 969 4595
Q 1241 4863 1831 4863
L 2375 4863
z
" transform="scale(0.015625)"/>
<path id="DejaVuSans-79" d="M 2059 -325
Q 1816 -950 1584 -1140
Q 1353 -1331 966 -1331
L 506 -1331
L 506 -850
L 844 -850
Q 1081 -850 1212 -737
Q 1344 -625 1503 -206
L 1606 56
L 191 3500
L 800 3500
L 1894 763
L 2988 3500
L 3597 3500
L 2059 -325
z
" transform="scale(0.015625)"/>
</defs>
<use href="#DejaVuSans-49"/>
<use href="#DejaVuSans-6e" transform="translate(29.492188 0)"/>
<use href="#DejaVuSans-63" transform="translate(92.871094 0)"/>
<use href="#DejaVuSans-68" transform="translate(147.851562 0)"/>
<use href="#DejaVuSans-65" transform="translate(211.230469 0)"/>
<use href="#DejaVuSans-73" transform="translate(272.753906 0)"/>
<use href="#DejaVuSans-20" transform="translate(324.853516 0)"/>
<use href="#DejaVuSans-6f" transform="translate(356.640625 0)"/>
<use href="#DejaVuSans-66" transform="translate(417.822266 0)"/>
<use href="#DejaVuSans-20" transform="translate(453.027344 0)"/>
<use href="#DejaVuSans-4d" transform="translate(484.814453 0)"/>
<use href="#DejaVuSans-65" transform="translate(571.09375 0)"/>
<use href="#DejaVuSans-72" transform="translate(632.617188 0)"/>
<use href="#DejaVuSans-63" transform="translate(671.480469 0)"/>
<use href="#DejaVuSans-75" transform="translate(726.460938 0)"/>
<use href="#DejaVuSans-72" transform="translate(789.839844 0)"/>
<use href="#DejaVuSans-79" transform="translate(830.953125 0)"/>
</g>
</g>
</g>
<g id="patch_15">
<path d="M 90.2400 183.8400
L 90.2400 25.9200
" style="fill: none; stroke: #000000; stroke-width: 0.8; stroke-linejoin: miter; stroke-linecap: square"/>
</g>
<g id="patch_16">
<path d="M 648.0000 183.8400
L 648.0000 25.9200
" style="fill: none; stroke: #000000; stroke-width: 0.8; stroke-linejoin: miter; stroke-linecap: square"/>
</g>
<g id="patch_17">
<path d="M 90.2400 183.8400
L 648.0000 183.8400
" style="fill: none; stroke: #000000; stroke-width: 0.8; stroke-linejoin: miter; stroke-linecap: square"/>
</g>
<g id="patch_18">
<path d="M 90.2400 25.9200
L 648.0000 25.9200
" style="fill: none; stroke: #000000; stroke-width: 0.8; stroke-linejoin: miter; stroke-linecap: square"/>
</g>
</g>
</g>
<defs>
<clipPath id="p1a22cb30ed">
<rect x="90" y="25.92" width="558" height="157.68"/>
</clipPath>
</defs>
</svg>
</body></html>
